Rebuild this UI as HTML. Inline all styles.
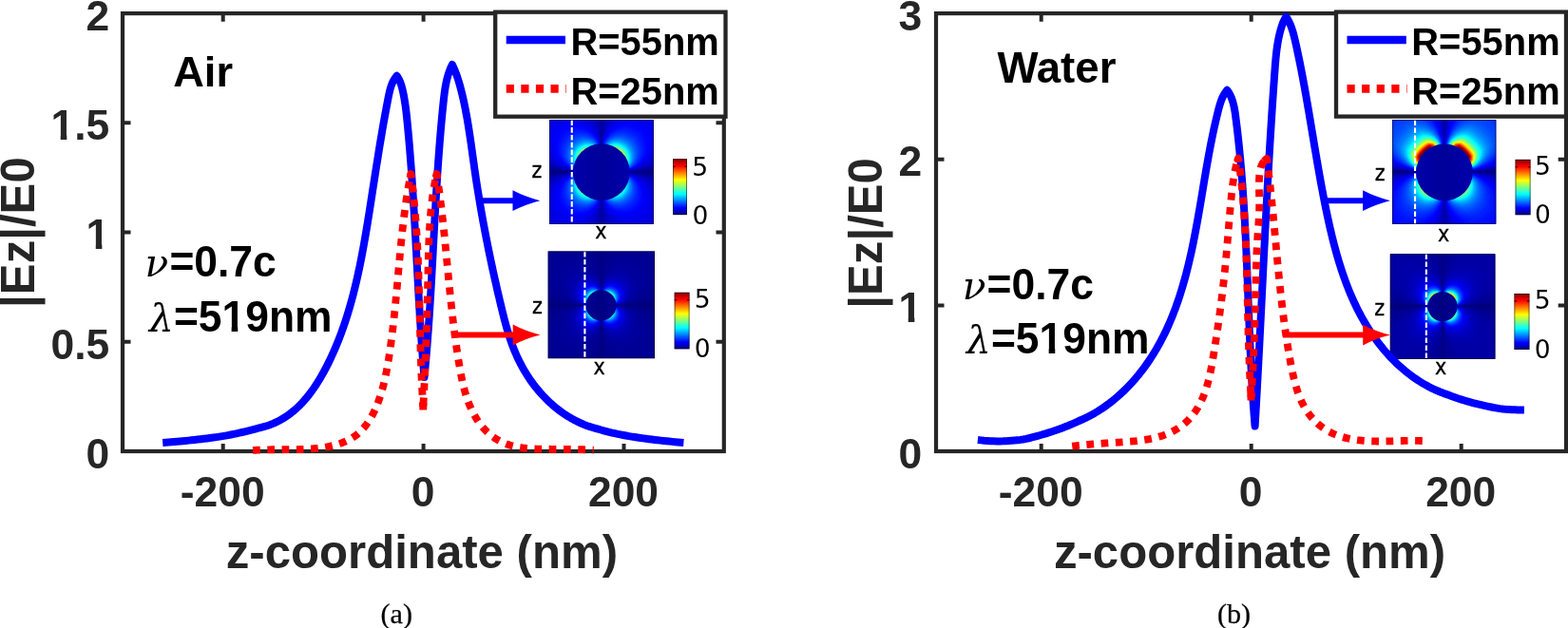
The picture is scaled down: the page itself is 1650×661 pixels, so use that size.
<!DOCTYPE html>
<html lang="en">
<head>
<meta charset="utf-8">
<title>|Ez|/E0 versus z-coordinate: Air and Water</title>
<style>
html,body{margin:0;padding:0;background:#fff}
#fig{position:relative;width:1650px;height:661px;overflow:hidden;background:#fff}
#fig svg{position:absolute;left:0;top:0}
.ins{position:absolute;left:0;top:0;overflow:hidden;transform-origin:0 0;background:#0000c4}
.fld{position:absolute;left:0;top:0;right:0;bottom:0;filter:url(#jet)}
.ly{position:absolute;left:0;top:0;right:0;bottom:0}
</style>
</head>
<body>
<div id="fig">
<svg width="1650" height="661" viewBox="0 0 1650 661">
<defs><filter id="jet" x="0" y="0" width="100%" height="100%" color-interpolation-filters="sRGB"><feComponentTransfer>
<feFuncR type="table" tableValues="0 0 0 0 0.5 1 1 1 0.5"/>
<feFuncG type="table" tableValues="0 0 0.5 1 1 1 0.5 0 0"/>
<feFuncB type="table" tableValues="0.5 1 1 1 0.5 0 0 0 0"/>
</feComponentTransfer></filter></defs>
<rect x="129.0" y="14.1" width="632.8" height="460.9" fill="none" stroke="#262626" stroke-width="4.2"/>
<path d="M234.7 475.0v-8.0M234.7 14.1v8.7M445.6 475.0v-8.0M445.6 14.1v8.7M656.5 475.0v-8.0M656.5 14.1v8.7M129.0 475.0h8.5M761.8 475.0h-8.3M129.0 359.8h8.5M761.8 359.8h-8.3M129.0 244.6h8.5M761.8 244.6h-8.3M129.0 129.3h8.5M761.8 129.3h-8.3M129.0 14.1h8.5M761.8 14.1h-8.3" stroke="#262626" stroke-width="4" fill="none"/>
<g font-family='"Liberation Sans", Arial, Helvetica, sans-serif' font-weight="bold" font-size="44.4" fill="#262626">
<text x="234.2" y="533.3" text-anchor="middle">-200</text>
<text x="445.1" y="533.3" text-anchor="middle">0</text>
<text x="656.0" y="533.3" text-anchor="middle">200</text>
<text transform="translate(115.3 492.7)" text-anchor="end">0</text>
<text transform="translate(115.3 377.5)" text-anchor="end">0.5</text>
<text transform="translate(115.3 262.2)" text-anchor="end" clip-path="url(#k0)">1</text>
<text transform="translate(115.3 147.0)" text-anchor="end" clip-path="url(#k1)">1.5</text>
<text transform="translate(115.3 31.8)" text-anchor="end">2</text>
</g>
<rect x="985.0" y="14.1" width="663.0" height="460.9" fill="none" stroke="#262626" stroke-width="4.2"/>
<path d="M1095.7 475.0v-8.0M1095.7 14.1v8.7M1316.7 475.0v-8.0M1316.7 14.1v8.7M1537.7 475.0v-8.0M1537.7 14.1v8.7M985.0 475.0h8.5M1648.0 475.0h-8.3M985.0 321.4h8.5M1648.0 321.4h-8.3M985.0 167.7h8.5M1648.0 167.7h-8.3M985.0 14.1h8.5M1648.0 14.1h-8.3" stroke="#262626" stroke-width="4" fill="none"/>
<g font-family='"Liberation Sans", Arial, Helvetica, sans-serif' font-weight="bold" font-size="44.4" fill="#262626">
<text x="1095.2" y="533.3" text-anchor="middle">-200</text>
<text x="1316.2" y="533.3" text-anchor="middle">0</text>
<text x="1537.2" y="533.3" text-anchor="middle">200</text>
<text transform="translate(970.3 492.7)" text-anchor="end">0</text>
<text transform="translate(970.3 339.1)" text-anchor="end" clip-path="url(#k2)">1</text>
<text transform="translate(970.3 185.4)" text-anchor="end">2</text>
<text transform="translate(970.3 31.8)" text-anchor="end">3</text>
</g>
<g font-family='"Liberation Sans", Arial, Helvetica, sans-serif' font-weight="bold" fill="#262626" font-size="49.15">
<text x="443.9" y="597.8" text-anchor="middle">z-coordinate (nm)</text>
<text x="1315" y="597.8" text-anchor="middle">z-coordinate (nm)</text>
<text transform="translate(36.3 244.6) rotate(-90)" text-anchor="middle">|Ez|/E0</text>
<text transform="translate(927.6 245.4) rotate(-90)" text-anchor="middle">|Ez|/E0</text>
</g>
<g font-family='"Liberation Sans", Arial, Helvetica, sans-serif' font-weight="bold" fill="#000" font-size="44.4">
<text x="182.2" y="91" font-size="45.2">Air</text>
<text x="1049.4" y="87" font-size="45.6">Water</text>
<text transform="translate(178.4 291.1) scale(1.000 1.030)"><tspan x="-25.8" y="-0.1" font-family='"DejaVu Serif", "Liberation Serif", serif' font-style="italic" font-weight="normal" font-size="40.6">ν</tspan><tspan x="0" y="0">=0.7c</tspan></text>
<text transform="translate(182.9 348.5) scale(1.000 1.030)" clip-path="url(#k3)"><tspan x="-25.9" y="0.1" font-family='"DejaVu Serif", "Liberation Serif", serif' font-style="italic" font-weight="normal" font-size="40.6">λ</tspan><tspan x="0" y="0">=519nm</tspan></text>
<text transform="translate(1038.6 315.3) scale(1.000 1.030)"><tspan x="-25.8" y="-0.1" font-family='"DejaVu Serif", "Liberation Serif", serif' font-style="italic" font-weight="normal" font-size="40.6">ν</tspan><tspan x="0" y="0">=0.7c</tspan></text>
<text transform="translate(1042.9 372.3) scale(1.000 1.030)" clip-path="url(#k4)"><tspan x="-25.9" y="0.1" font-family='"DejaVu Serif", "Liberation Serif", serif' font-style="italic" font-weight="normal" font-size="40.6">λ</tspan><tspan x="0" y="0">=519nm</tspan></text>
</g>
<g font-family='"Liberation Serif", "Times New Roman", serif' fill="#000" font-size="30.1" text-anchor="middle" stroke="#000" stroke-width="0.25"><text x="417.3" y="656">(a)</text><text x="1298.6" y="655.8">(b)</text></g>
<defs><clipPath id="k0"><path d="M-27.7 -44.4H3.0V-5.2H-27.7ZM-14.56 -6.2H-7.95V2.0H-14.56Z"/></clipPath><clipPath id="k1"><path d="M-64.7 -44.4H3.0V-5.2H-64.7ZM-51.59 -6.2H-44.98V2.0H-51.59ZM-37.03 -6.2H-24.69V13.3H-37.03ZM-24.69 -6.2H0.00V13.3H-24.69Z"/></clipPath><clipPath id="k2"><path d="M-27.7 -44.4H3.0V-5.2H-27.7ZM-14.56 -6.2H-7.95V2.0H-14.56Z"/></clipPath><clipPath id="k3"><path d="M-3.0 -44.4H169.6V-5.2H-3.0ZM-33.9 -44.4H0.0V17.8H-33.9ZM0.00 -6.2H25.93V13.3H0.00ZM25.93 -6.2H50.62V13.3H25.93ZM60.74 -6.2H67.35V2.0H60.74ZM75.30 -6.2H99.99V13.3H75.30ZM99.99 -6.2H127.12V13.3H99.99ZM127.12 -6.2H166.59V13.3H127.12Z"/></clipPath><clipPath id="k4"><path d="M-3.0 -44.4H169.6V-5.2H-3.0ZM-33.9 -44.4H0.0V17.8H-33.9ZM0.00 -6.2H25.93V13.3H0.00ZM25.93 -6.2H50.62V13.3H25.93ZM60.74 -6.2H67.35V2.0H60.74ZM75.30 -6.2H99.99V13.3H75.30ZM99.99 -6.2H127.12V13.3H99.99ZM127.12 -6.2H166.59V13.3H127.12Z"/></clipPath></defs>
</svg>
<div class="ins" style="width:110px;height:110px;transform:translate(578.20px,126.00px) scale(0.9964,0.9991)"><div class="fld"><div class="ly" style="background:conic-gradient(from 0deg at 54.9px 54.9px,rgb(8,8,8) 0.0deg,rgb(14,14,14) 7.5deg,rgb(17,17,17) 15.0deg,rgb(19,19,19) 22.5deg,rgb(21,21,21) 30.0deg,rgb(21,21,21) 37.5deg,rgb(22,22,22) 45.0deg,rgb(21,21,21) 52.5deg,rgb(20,20,20) 60.0deg,rgb(19,19,19) 67.5deg,rgb(16,16,16) 75.0deg,rgb(11,11,11) 82.5deg,rgb(0,0,0) 90.0deg,rgb(11,11,11) 97.5deg,rgb(15,15,15) 105.0deg,rgb(17,17,17) 112.5deg,rgb(19,19,19) 120.0deg,rgb(20,20,20) 127.5deg,rgb(20,20,20) 135.0deg,rgb(20,20,20) 142.5deg,rgb(19,19,19) 150.0deg,rgb(18,18,18) 157.5deg,rgb(16,16,16) 165.0deg,rgb(14,14,14) 172.5deg,rgb(8,8,8) 180.0deg,rgb(14,14,14) 187.5deg,rgb(16,16,16) 195.0deg,rgb(18,18,18) 202.5deg,rgb(19,19,19) 210.0deg,rgb(20,20,20) 217.5deg,rgb(20,20,20) 225.0deg,rgb(20,20,20) 232.5deg,rgb(19,19,19) 240.0deg,rgb(17,17,17) 247.5deg,rgb(15,15,15) 255.0deg,rgb(11,11,11) 262.5deg,rgb(0,0,0) 270.0deg,rgb(11,11,11) 277.5deg,rgb(16,16,16) 285.0deg,rgb(19,19,19) 292.5deg,rgb(20,20,20) 300.0deg,rgb(21,21,21) 307.5deg,rgb(22,22,22) 315.0deg,rgb(21,21,21) 322.5deg,rgb(21,21,21) 330.0deg,rgb(19,19,19) 337.5deg,rgb(17,17,17) 345.0deg,rgb(14,14,14) 352.5deg,rgb(8,8,8) 360.0deg)"></div><div class="ly" style="background:conic-gradient(from 0deg at 54.9px 54.9px,rgb(8,8,8) 0.0deg,rgb(50,50,50) 7.5deg,rgb(85,85,85) 15.0deg,rgb(114,114,114) 22.5deg,rgb(135,135,135) 30.0deg,rgb(148,148,148) 37.5deg,rgb(153,153,153) 45.0deg,rgb(148,148,148) 52.5deg,rgb(135,135,135) 60.0deg,rgb(113,113,113) 67.5deg,rgb(83,83,83) 75.0deg,rgb(46,46,46) 82.5deg,rgb(0,0,0) 90.0deg,rgb(35,35,35) 97.5deg,rgb(63,63,63) 105.0deg,rgb(86,86,86) 112.5deg,rgb(103,103,103) 120.0deg,rgb(114,114,114) 127.5deg,rgb(117,117,117) 135.0deg,rgb(114,114,114) 142.5deg,rgb(104,104,104) 150.0deg,rgb(87,87,87) 157.5deg,rgb(66,66,66) 165.0deg,rgb(40,40,40) 172.5deg,rgb(8,8,8) 180.0deg,rgb(43,43,43) 187.5deg,rgb(71,71,71) 195.0deg,rgb(95,95,95) 202.5deg,rgb(113,113,113) 210.0deg,rgb(124,124,124) 217.5deg,rgb(128,128,128) 225.0deg,rgb(124,124,124) 232.5deg,rgb(112,112,112) 240.0deg,rgb(94,94,94) 247.5deg,rgb(69,69,69) 255.0deg,rgb(38,38,38) 262.5deg,rgb(0,0,0) 270.0deg,rgb(42,42,42) 277.5deg,rgb(76,76,76) 285.0deg,rgb(103,103,103) 292.5deg,rgb(124,124,124) 300.0deg,rgb(136,136,136) 307.5deg,rgb(140,140,140) 315.0deg,rgb(136,136,136) 322.5deg,rgb(124,124,124) 330.0deg,rgb(104,104,104) 337.5deg,rgb(78,78,78) 345.0deg,rgb(46,46,46) 352.5deg,rgb(8,8,8) 360.0deg);-webkit-mask-image:radial-gradient(circle at 54.9px 54.9px,rgba(0,0,0,1) 0px,rgba(0,0,0,1) 29.40px,rgba(0,0,0,0.875) 30.58px,rgba(0,0,0,0.766) 31.80px,rgba(0,0,0,0.670) 33.07px,rgba(0,0,0,0.587) 34.39px,rgba(0,0,0,0.513) 35.77px,rgba(0,0,0,0.449) 37.20px,rgba(0,0,0,0.393) 38.69px,rgba(0,0,0,0.344) 40.24px,rgba(0,0,0,0.301) 41.85px,rgba(0,0,0,0.264) 43.52px,rgba(0,0,0,0.231) 45.26px,rgba(0,0,0,0.202) 47.07px,rgba(0,0,0,0.177) 48.95px,rgba(0,0,0,0.155) 50.91px,rgba(0,0,0,0.135) 52.95px,rgba(0,0,0,0.118) 55.07px,rgba(0,0,0,0.104) 57.27px,rgba(0,0,0,0.091) 59.56px,rgba(0,0,0,0.079) 61.94px,rgba(0,0,0,0.069) 64.42px,rgba(0,0,0,0.061) 67.00px,rgba(0,0,0,0.053) 69.68px,rgba(0,0,0,0.047) 72.46px,rgba(0,0,0,0.041) 75.36px,rgba(0,0,0,0.036) 78.38px,rgba(0,0,0,0.031) 81.51px,rgba(0,0,0,0.027) 84.77px,rgba(0,0,0,0.024) 88.16px,rgba(0,0,0,0.021) 91.69px,rgba(0,0,0,0.018) 95.36px,rgba(0,0,0,0.016) 99.17px,rgba(0,0,0,0.014) 103.14px,rgba(0,0,0,0.012) 107.26px,rgba(0,0,0,0.011) 111.55px,rgba(0,0,0,0) 145.02px);mask-image:radial-gradient(circle at 54.9px 54.9px,rgba(0,0,0,1) 0px,rgba(0,0,0,1) 29.40px,rgba(0,0,0,0.875) 30.58px,rgba(0,0,0,0.766) 31.80px,rgba(0,0,0,0.670) 33.07px,rgba(0,0,0,0.587) 34.39px,rgba(0,0,0,0.513) 35.77px,rgba(0,0,0,0.449) 37.20px,rgba(0,0,0,0.393) 38.69px,rgba(0,0,0,0.344) 40.24px,rgba(0,0,0,0.301) 41.85px,rgba(0,0,0,0.264) 43.52px,rgba(0,0,0,0.231) 45.26px,rgba(0,0,0,0.202) 47.07px,rgba(0,0,0,0.177) 48.95px,rgba(0,0,0,0.155) 50.91px,rgba(0,0,0,0.135) 52.95px,rgba(0,0,0,0.118) 55.07px,rgba(0,0,0,0.104) 57.27px,rgba(0,0,0,0.091) 59.56px,rgba(0,0,0,0.079) 61.94px,rgba(0,0,0,0.069) 64.42px,rgba(0,0,0,0.061) 67.00px,rgba(0,0,0,0.053) 69.68px,rgba(0,0,0,0.047) 72.46px,rgba(0,0,0,0.041) 75.36px,rgba(0,0,0,0.036) 78.38px,rgba(0,0,0,0.031) 81.51px,rgba(0,0,0,0.027) 84.77px,rgba(0,0,0,0.024) 88.16px,rgba(0,0,0,0.021) 91.69px,rgba(0,0,0,0.018) 95.36px,rgba(0,0,0,0.016) 99.17px,rgba(0,0,0,0.014) 103.14px,rgba(0,0,0,0.012) 107.26px,rgba(0,0,0,0.011) 111.55px,rgba(0,0,0,0) 145.02px)"></div></div></div>
<div class="ins" style="width:112px;height:113px;transform:translate(576.70px,264.50px) scale(1.0027,0.9973)"><div class="fld"><div class="ly" style="background:conic-gradient(from 0deg at 55.7px 57.0px,rgb(2,2,2) 0.0deg,rgb(4,4,4) 7.5deg,rgb(4,4,4) 15.0deg,rgb(5,5,5) 22.5deg,rgb(5,5,5) 30.0deg,rgb(5,5,5) 37.5deg,rgb(5,5,5) 45.0deg,rgb(5,5,5) 52.5deg,rgb(5,5,5) 60.0deg,rgb(4,4,4) 67.5deg,rgb(4,4,4) 75.0deg,rgb(3,3,3) 82.5deg,rgb(0,0,0) 90.0deg,rgb(3,3,3) 97.5deg,rgb(4,4,4) 105.0deg,rgb(4,4,4) 112.5deg,rgb(5,5,5) 120.0deg,rgb(5,5,5) 127.5deg,rgb(5,5,5) 135.0deg,rgb(5,5,5) 142.5deg,rgb(5,5,5) 150.0deg,rgb(5,5,5) 157.5deg,rgb(4,4,4) 165.0deg,rgb(4,4,4) 172.5deg,rgb(2,2,2) 180.0deg,rgb(4,4,4) 187.5deg,rgb(4,4,4) 195.0deg,rgb(5,5,5) 202.5deg,rgb(5,5,5) 210.0deg,rgb(5,5,5) 217.5deg,rgb(5,5,5) 225.0deg,rgb(5,5,5) 232.5deg,rgb(5,5,5) 240.0deg,rgb(4,4,4) 247.5deg,rgb(4,4,4) 255.0deg,rgb(3,3,3) 262.5deg,rgb(0,0,0) 270.0deg,rgb(3,3,3) 277.5deg,rgb(4,4,4) 285.0deg,rgb(4,4,4) 292.5deg,rgb(5,5,5) 300.0deg,rgb(5,5,5) 307.5deg,rgb(5,5,5) 315.0deg,rgb(5,5,5) 322.5deg,rgb(5,5,5) 330.0deg,rgb(5,5,5) 337.5deg,rgb(4,4,4) 345.0deg,rgb(4,4,4) 352.5deg,rgb(2,2,2) 360.0deg)"></div><div class="ly" style="background:conic-gradient(from 0deg at 55.7px 57.0px,rgb(2,2,2) 0.0deg,rgb(39,39,39) 7.5deg,rgb(69,69,69) 15.0deg,rgb(94,94,94) 22.5deg,rgb(112,112,112) 30.0deg,rgb(124,124,124) 37.5deg,rgb(128,128,128) 45.0deg,rgb(124,124,124) 52.5deg,rgb(112,112,112) 60.0deg,rgb(93,93,93) 67.5deg,rgb(68,68,68) 75.0deg,rgb(38,38,38) 82.5deg,rgb(0,0,0) 90.0deg,rgb(34,34,34) 97.5deg,rgb(62,62,62) 105.0deg,rgb(84,84,84) 112.5deg,rgb(101,101,101) 120.0deg,rgb(111,111,111) 127.5deg,rgb(115,115,115) 135.0deg,rgb(111,111,111) 142.5deg,rgb(101,101,101) 150.0deg,rgb(84,84,84) 157.5deg,rgb(62,62,62) 165.0deg,rgb(35,35,35) 172.5deg,rgb(2,2,2) 180.0deg,rgb(36,36,36) 187.5deg,rgb(64,64,64) 195.0deg,rgb(86,86,86) 202.5deg,rgb(103,103,103) 210.0deg,rgb(114,114,114) 217.5deg,rgb(117,117,117) 225.0deg,rgb(114,114,114) 232.5deg,rgb(103,103,103) 240.0deg,rgb(86,86,86) 247.5deg,rgb(63,63,63) 255.0deg,rgb(35,35,35) 262.5deg,rgb(0,0,0) 270.0deg,rgb(38,38,38) 277.5deg,rgb(68,68,68) 285.0deg,rgb(93,93,93) 292.5deg,rgb(112,112,112) 300.0deg,rgb(124,124,124) 307.5deg,rgb(128,128,128) 315.0deg,rgb(124,124,124) 322.5deg,rgb(112,112,112) 330.0deg,rgb(94,94,94) 337.5deg,rgb(69,69,69) 345.0deg,rgb(39,39,39) 352.5deg,rgb(2,2,2) 360.0deg);-webkit-mask-image:radial-gradient(circle at 55.7px 57.0px,rgba(0,0,0,1) 0px,rgba(0,0,0,1) 15.60px,rgba(0,0,0,0.882) 16.22px,rgba(0,0,0,0.778) 16.87px,rgba(0,0,0,0.686) 17.55px,rgba(0,0,0,0.605) 18.25px,rgba(0,0,0,0.534) 18.98px,rgba(0,0,0,0.471) 19.74px,rgba(0,0,0,0.415) 20.53px,rgba(0,0,0,0.366) 21.35px,rgba(0,0,0,0.323) 22.20px,rgba(0,0,0,0.285) 23.09px,rgba(0,0,0,0.251) 24.02px,rgba(0,0,0,0.222) 24.98px,rgba(0,0,0,0.196) 25.98px,rgba(0,0,0,0.173) 27.01px,rgba(0,0,0,0.152) 28.09px,rgba(0,0,0,0.134) 29.22px,rgba(0,0,0,0.118) 30.39px,rgba(0,0,0,0.104) 31.60px,rgba(0,0,0,0.092) 32.87px,rgba(0,0,0,0.081) 34.18px,rgba(0,0,0,0.072) 35.55px,rgba(0,0,0,0.063) 36.97px,rgba(0,0,0,0.056) 38.45px,rgba(0,0,0,0.049) 39.99px,rgba(0,0,0,0.043) 41.59px,rgba(0,0,0,0.038) 43.25px,rgba(0,0,0,0.034) 44.98px,rgba(0,0,0,0.030) 46.78px,rgba(0,0,0,0.026) 48.65px,rgba(0,0,0,0.023) 50.60px,rgba(0,0,0,0.020) 52.62px,rgba(0,0,0,0.018) 54.73px,rgba(0,0,0,0.016) 56.91px,rgba(0,0,0,0.014) 59.19px,rgba(0,0,0,0.012) 61.56px,rgba(0,0,0,0.011) 64.02px,rgba(0,0,0,0.010) 66.58px,rgba(0,0,0,0.008) 69.25px,rgba(0,0,0,0.007) 72.02px,rgba(0,0,0,0.007) 74.90px,rgba(0,0,0,0.006) 77.89px,rgba(0,0,0,0.005) 81.01px,rgba(0,0,0,0.005) 84.25px,rgba(0,0,0,0.004) 87.62px,rgba(0,0,0,0.004) 91.12px,rgba(0,0,0,0.003) 94.77px,rgba(0,0,0,0.003) 98.56px,rgba(0,0,0,0.002) 102.50px,rgba(0,0,0,0.002) 106.60px,rgba(0,0,0,0.002) 110.86px,rgba(0,0,0,0.002) 115.30px,rgba(0,0,0,0) 149.89px);mask-image:radial-gradient(circle at 55.7px 57.0px,rgba(0,0,0,1) 0px,rgba(0,0,0,1) 15.60px,rgba(0,0,0,0.882) 16.22px,rgba(0,0,0,0.778) 16.87px,rgba(0,0,0,0.686) 17.55px,rgba(0,0,0,0.605) 18.25px,rgba(0,0,0,0.534) 18.98px,rgba(0,0,0,0.471) 19.74px,rgba(0,0,0,0.415) 20.53px,rgba(0,0,0,0.366) 21.35px,rgba(0,0,0,0.323) 22.20px,rgba(0,0,0,0.285) 23.09px,rgba(0,0,0,0.251) 24.02px,rgba(0,0,0,0.222) 24.98px,rgba(0,0,0,0.196) 25.98px,rgba(0,0,0,0.173) 27.01px,rgba(0,0,0,0.152) 28.09px,rgba(0,0,0,0.134) 29.22px,rgba(0,0,0,0.118) 30.39px,rgba(0,0,0,0.104) 31.60px,rgba(0,0,0,0.092) 32.87px,rgba(0,0,0,0.081) 34.18px,rgba(0,0,0,0.072) 35.55px,rgba(0,0,0,0.063) 36.97px,rgba(0,0,0,0.056) 38.45px,rgba(0,0,0,0.049) 39.99px,rgba(0,0,0,0.043) 41.59px,rgba(0,0,0,0.038) 43.25px,rgba(0,0,0,0.034) 44.98px,rgba(0,0,0,0.030) 46.78px,rgba(0,0,0,0.026) 48.65px,rgba(0,0,0,0.023) 50.60px,rgba(0,0,0,0.020) 52.62px,rgba(0,0,0,0.018) 54.73px,rgba(0,0,0,0.016) 56.91px,rgba(0,0,0,0.014) 59.19px,rgba(0,0,0,0.012) 61.56px,rgba(0,0,0,0.011) 64.02px,rgba(0,0,0,0.010) 66.58px,rgba(0,0,0,0.008) 69.25px,rgba(0,0,0,0.007) 72.02px,rgba(0,0,0,0.007) 74.90px,rgba(0,0,0,0.006) 77.89px,rgba(0,0,0,0.005) 81.01px,rgba(0,0,0,0.005) 84.25px,rgba(0,0,0,0.004) 87.62px,rgba(0,0,0,0.004) 91.12px,rgba(0,0,0,0.003) 94.77px,rgba(0,0,0,0.003) 98.56px,rgba(0,0,0,0.002) 102.50px,rgba(0,0,0,0.002) 106.60px,rgba(0,0,0,0.002) 110.86px,rgba(0,0,0,0.002) 115.30px,rgba(0,0,0,0) 149.89px)"></div></div></div>
<div class="ins" style="width:109px;height:110px;transform:translate(1465.00px,126.10px) scale(1.0028,0.9964)"><div class="fld"><div class="ly" style="background:conic-gradient(from 0deg at 54.6px 54.7px,rgb(9,9,9) 0.0deg,rgb(23,23,23) 7.5deg,rgb(29,29,29) 15.0deg,rgb(33,33,33) 22.5deg,rgb(36,36,36) 30.0deg,rgb(38,38,38) 37.5deg,rgb(38,38,38) 45.0deg,rgb(38,38,38) 52.5deg,rgb(36,36,36) 60.0deg,rgb(33,33,33) 67.5deg,rgb(27,27,27) 75.0deg,rgb(20,20,20) 82.5deg,rgb(0,0,0) 90.0deg,rgb(15,15,15) 97.5deg,rgb(20,20,20) 105.0deg,rgb(24,24,24) 112.5deg,rgb(26,26,26) 120.0deg,rgb(28,28,28) 127.5deg,rgb(28,28,28) 135.0deg,rgb(28,28,28) 142.5deg,rgb(27,27,27) 150.0deg,rgb(25,25,25) 157.5deg,rgb(22,22,22) 165.0deg,rgb(18,18,18) 172.5deg,rgb(9,9,9) 180.0deg,rgb(18,18,18) 187.5deg,rgb(22,22,22) 195.0deg,rgb(25,25,25) 202.5deg,rgb(27,27,27) 210.0deg,rgb(28,28,28) 217.5deg,rgb(28,28,28) 225.0deg,rgb(28,28,28) 232.5deg,rgb(26,26,26) 240.0deg,rgb(24,24,24) 247.5deg,rgb(20,20,20) 255.0deg,rgb(15,15,15) 262.5deg,rgb(0,0,0) 270.0deg,rgb(20,20,20) 277.5deg,rgb(27,27,27) 285.0deg,rgb(33,33,33) 292.5deg,rgb(36,36,36) 300.0deg,rgb(38,38,38) 307.5deg,rgb(38,38,38) 315.0deg,rgb(38,38,38) 322.5deg,rgb(36,36,36) 330.0deg,rgb(33,33,33) 337.5deg,rgb(29,29,29) 345.0deg,rgb(23,23,23) 352.5deg,rgb(9,9,9) 360.0deg)"></div><div class="ly" style="background:conic-gradient(from 0deg at 54.6px 54.7px,rgb(10,10,10) 0.0deg,rgb(50,50,50) 7.5deg,rgb(83,83,83) 15.0deg,rgb(110,110,110) 22.5deg,rgb(131,131,131) 30.0deg,rgb(144,144,144) 37.5deg,rgb(148,148,148) 45.0deg,rgb(143,143,143) 52.5deg,rgb(130,130,130) 60.0deg,rgb(109,109,109) 67.5deg,rgb(80,80,80) 75.0deg,rgb(44,44,44) 82.5deg,rgb(0,0,0) 90.0deg,rgb(44,44,44) 97.5deg,rgb(80,80,80) 105.0deg,rgb(109,109,109) 112.5deg,rgb(130,130,130) 120.0deg,rgb(143,143,143) 127.5deg,rgb(148,148,148) 135.0deg,rgb(144,144,144) 142.5deg,rgb(131,131,131) 150.0deg,rgb(110,110,110) 157.5deg,rgb(83,83,83) 165.0deg,rgb(50,50,50) 172.5deg,rgb(10,10,10) 180.0deg,rgb(50,50,50) 187.5deg,rgb(83,83,83) 195.0deg,rgb(110,110,110) 202.5deg,rgb(131,131,131) 210.0deg,rgb(144,144,144) 217.5deg,rgb(148,148,148) 225.0deg,rgb(143,143,143) 232.5deg,rgb(130,130,130) 240.0deg,rgb(109,109,109) 247.5deg,rgb(80,80,80) 255.0deg,rgb(44,44,44) 262.5deg,rgb(0,0,0) 270.0deg,rgb(44,44,44) 277.5deg,rgb(80,80,80) 285.0deg,rgb(109,109,109) 292.5deg,rgb(130,130,130) 300.0deg,rgb(143,143,143) 307.5deg,rgb(148,148,148) 315.0deg,rgb(144,144,144) 322.5deg,rgb(131,131,131) 330.0deg,rgb(110,110,110) 337.5deg,rgb(83,83,83) 345.0deg,rgb(50,50,50) 352.5deg,rgb(10,10,10) 360.0deg);-webkit-mask-image:radial-gradient(circle at 54.6px 54.7px,rgba(0,0,0,1) 0px,rgba(0,0,0,1) 29.40px,rgba(0,0,0,0.882) 30.58px,rgba(0,0,0,0.778) 31.80px,rgba(0,0,0,0.686) 33.07px,rgba(0,0,0,0.605) 34.39px,rgba(0,0,0,0.534) 35.77px,rgba(0,0,0,0.471) 37.20px,rgba(0,0,0,0.415) 38.69px,rgba(0,0,0,0.366) 40.24px,rgba(0,0,0,0.323) 41.85px,rgba(0,0,0,0.285) 43.52px,rgba(0,0,0,0.251) 45.26px,rgba(0,0,0,0.222) 47.07px,rgba(0,0,0,0.196) 48.95px,rgba(0,0,0,0.173) 50.91px,rgba(0,0,0,0.152) 52.95px,rgba(0,0,0,0.134) 55.07px,rgba(0,0,0,0.118) 57.27px,rgba(0,0,0,0.104) 59.56px,rgba(0,0,0,0.092) 61.94px,rgba(0,0,0,0.081) 64.42px,rgba(0,0,0,0.072) 67.00px,rgba(0,0,0,0.063) 69.68px,rgba(0,0,0,0.056) 72.46px,rgba(0,0,0,0.049) 75.36px,rgba(0,0,0,0.043) 78.38px,rgba(0,0,0,0.038) 81.51px,rgba(0,0,0,0.034) 84.77px,rgba(0,0,0,0.030) 88.16px,rgba(0,0,0,0.026) 91.69px,rgba(0,0,0,0.023) 95.36px,rgba(0,0,0,0.020) 99.17px,rgba(0,0,0,0.018) 103.14px,rgba(0,0,0,0.016) 107.26px,rgba(0,0,0,0.014) 111.55px,rgba(0,0,0,0) 145.02px);mask-image:radial-gradient(circle at 54.6px 54.7px,rgba(0,0,0,1) 0px,rgba(0,0,0,1) 29.40px,rgba(0,0,0,0.882) 30.58px,rgba(0,0,0,0.778) 31.80px,rgba(0,0,0,0.686) 33.07px,rgba(0,0,0,0.605) 34.39px,rgba(0,0,0,0.534) 35.77px,rgba(0,0,0,0.471) 37.20px,rgba(0,0,0,0.415) 38.69px,rgba(0,0,0,0.366) 40.24px,rgba(0,0,0,0.323) 41.85px,rgba(0,0,0,0.285) 43.52px,rgba(0,0,0,0.251) 45.26px,rgba(0,0,0,0.222) 47.07px,rgba(0,0,0,0.196) 48.95px,rgba(0,0,0,0.173) 50.91px,rgba(0,0,0,0.152) 52.95px,rgba(0,0,0,0.134) 55.07px,rgba(0,0,0,0.118) 57.27px,rgba(0,0,0,0.104) 59.56px,rgba(0,0,0,0.092) 61.94px,rgba(0,0,0,0.081) 64.42px,rgba(0,0,0,0.072) 67.00px,rgba(0,0,0,0.063) 69.68px,rgba(0,0,0,0.056) 72.46px,rgba(0,0,0,0.049) 75.36px,rgba(0,0,0,0.043) 78.38px,rgba(0,0,0,0.038) 81.51px,rgba(0,0,0,0.034) 84.77px,rgba(0,0,0,0.030) 88.16px,rgba(0,0,0,0.026) 91.69px,rgba(0,0,0,0.023) 95.36px,rgba(0,0,0,0.020) 99.17px,rgba(0,0,0,0.018) 103.14px,rgba(0,0,0,0.016) 107.26px,rgba(0,0,0,0.014) 111.55px,rgba(0,0,0,0) 145.02px);clip-path:inset(54.7px 0 0 0)"></div><div class="ly" style="background:conic-gradient(from 0deg at 54.6px 54.7px,rgb(10,10,10) 0.0deg,rgb(57,57,57) 7.5deg,rgb(131,131,131) 15.0deg,rgb(202,202,202) 22.5deg,rgb(255,255,255) 30.0deg,rgb(255,255,255) 37.5deg,rgb(255,255,255) 45.0deg,rgb(255,255,255) 52.5deg,rgb(255,255,255) 60.0deg,rgb(202,202,202) 67.5deg,rgb(131,131,131) 75.0deg,rgb(57,57,57) 82.5deg,rgb(0,0,0) 90.0deg,rgb(57,57,57) 97.5deg,rgb(131,131,131) 105.0deg,rgb(202,202,202) 112.5deg,rgb(255,255,255) 120.0deg,rgb(255,255,255) 127.5deg,rgb(255,255,255) 135.0deg,rgb(255,255,255) 142.5deg,rgb(255,255,255) 150.0deg,rgb(202,202,202) 157.5deg,rgb(131,131,131) 165.0deg,rgb(57,57,57) 172.5deg,rgb(10,10,10) 180.0deg,rgb(57,57,57) 187.5deg,rgb(131,131,131) 195.0deg,rgb(202,202,202) 202.5deg,rgb(255,255,255) 210.0deg,rgb(255,255,255) 217.5deg,rgb(255,255,255) 225.0deg,rgb(255,255,255) 232.5deg,rgb(255,255,255) 240.0deg,rgb(202,202,202) 247.5deg,rgb(131,131,131) 255.0deg,rgb(57,57,57) 262.5deg,rgb(0,0,0) 270.0deg,rgb(57,57,57) 277.5deg,rgb(131,131,131) 285.0deg,rgb(202,202,202) 292.5deg,rgb(255,255,255) 300.0deg,rgb(255,255,255) 307.5deg,rgb(255,255,255) 315.0deg,rgb(255,255,255) 322.5deg,rgb(255,255,255) 330.0deg,rgb(202,202,202) 337.5deg,rgb(131,131,131) 345.0deg,rgb(57,57,57) 352.5deg,rgb(10,10,10) 360.0deg);-webkit-mask-image:radial-gradient(circle at 54.6px 54.7px,rgba(0,0,0,1) 0px,rgba(0,0,0,1) 29.40px,rgba(0,0,0,1.000) 30.58px,rgba(0,0,0,0.906) 31.80px,rgba(0,0,0,0.780) 33.07px,rgba(0,0,0,0.672) 34.39px,rgba(0,0,0,0.579) 35.77px,rgba(0,0,0,0.499) 37.20px,rgba(0,0,0,0.430) 38.69px,rgba(0,0,0,0.370) 40.24px,rgba(0,0,0,0.319) 41.85px,rgba(0,0,0,0.275) 43.52px,rgba(0,0,0,0.237) 45.26px,rgba(0,0,0,0.204) 47.07px,rgba(0,0,0,0.176) 48.95px,rgba(0,0,0,0.151) 50.91px,rgba(0,0,0,0.130) 52.95px,rgba(0,0,0,0.112) 55.07px,rgba(0,0,0,0.097) 57.27px,rgba(0,0,0,0.083) 59.56px,rgba(0,0,0,0.072) 61.94px,rgba(0,0,0,0.062) 64.42px,rgba(0,0,0,0.053) 67.00px,rgba(0,0,0,0.046) 69.68px,rgba(0,0,0,0.040) 72.46px,rgba(0,0,0,0.034) 75.36px,rgba(0,0,0,0.029) 78.38px,rgba(0,0,0,0.025) 81.51px,rgba(0,0,0,0.022) 84.77px,rgba(0,0,0,0.019) 88.16px,rgba(0,0,0,0.016) 91.69px,rgba(0,0,0,0.014) 95.36px,rgba(0,0,0,0.012) 99.17px,rgba(0,0,0,0.010) 103.14px,rgba(0,0,0,0.009) 107.26px,rgba(0,0,0,0.008) 111.55px,rgba(0,0,0,0) 145.02px);mask-image:radial-gradient(circle at 54.6px 54.7px,rgba(0,0,0,1) 0px,rgba(0,0,0,1) 29.40px,rgba(0,0,0,1.000) 30.58px,rgba(0,0,0,0.906) 31.80px,rgba(0,0,0,0.780) 33.07px,rgba(0,0,0,0.672) 34.39px,rgba(0,0,0,0.579) 35.77px,rgba(0,0,0,0.499) 37.20px,rgba(0,0,0,0.430) 38.69px,rgba(0,0,0,0.370) 40.24px,rgba(0,0,0,0.319) 41.85px,rgba(0,0,0,0.275) 43.52px,rgba(0,0,0,0.237) 45.26px,rgba(0,0,0,0.204) 47.07px,rgba(0,0,0,0.176) 48.95px,rgba(0,0,0,0.151) 50.91px,rgba(0,0,0,0.130) 52.95px,rgba(0,0,0,0.112) 55.07px,rgba(0,0,0,0.097) 57.27px,rgba(0,0,0,0.083) 59.56px,rgba(0,0,0,0.072) 61.94px,rgba(0,0,0,0.062) 64.42px,rgba(0,0,0,0.053) 67.00px,rgba(0,0,0,0.046) 69.68px,rgba(0,0,0,0.040) 72.46px,rgba(0,0,0,0.034) 75.36px,rgba(0,0,0,0.029) 78.38px,rgba(0,0,0,0.025) 81.51px,rgba(0,0,0,0.022) 84.77px,rgba(0,0,0,0.019) 88.16px,rgba(0,0,0,0.016) 91.69px,rgba(0,0,0,0.014) 95.36px,rgba(0,0,0,0.012) 99.17px,rgba(0,0,0,0.010) 103.14px,rgba(0,0,0,0.009) 107.26px,rgba(0,0,0,0.008) 111.55px,rgba(0,0,0,0) 145.02px);clip-path:inset(0 0 55.3px 0)"></div></div></div>
<div class="ins" style="width:111px;height:111px;transform:translate(1462.80px,267.30px) scale(0.9964,0.9964)"><div class="fld"><div class="ly" style="background:conic-gradient(from 0deg at 55.4px 55.3px,rgb(3,3,3) 0.0deg,rgb(6,6,6) 7.5deg,rgb(7,7,7) 15.0deg,rgb(8,8,8) 22.5deg,rgb(8,8,8) 30.0deg,rgb(9,9,9) 37.5deg,rgb(9,9,9) 45.0deg,rgb(9,9,9) 52.5deg,rgb(8,8,8) 60.0deg,rgb(8,8,8) 67.5deg,rgb(6,6,6) 75.0deg,rgb(5,5,5) 82.5deg,rgb(0,0,0) 90.0deg,rgb(5,5,5) 97.5deg,rgb(6,6,6) 105.0deg,rgb(8,8,8) 112.5deg,rgb(8,8,8) 120.0deg,rgb(9,9,9) 127.5deg,rgb(9,9,9) 135.0deg,rgb(9,9,9) 142.5deg,rgb(8,8,8) 150.0deg,rgb(8,8,8) 157.5deg,rgb(7,7,7) 165.0deg,rgb(6,6,6) 172.5deg,rgb(3,3,3) 180.0deg,rgb(6,6,6) 187.5deg,rgb(7,7,7) 195.0deg,rgb(8,8,8) 202.5deg,rgb(8,8,8) 210.0deg,rgb(9,9,9) 217.5deg,rgb(9,9,9) 225.0deg,rgb(9,9,9) 232.5deg,rgb(8,8,8) 240.0deg,rgb(8,8,8) 247.5deg,rgb(6,6,6) 255.0deg,rgb(5,5,5) 262.5deg,rgb(0,0,0) 270.0deg,rgb(5,5,5) 277.5deg,rgb(6,6,6) 285.0deg,rgb(8,8,8) 292.5deg,rgb(8,8,8) 300.0deg,rgb(9,9,9) 307.5deg,rgb(9,9,9) 315.0deg,rgb(9,9,9) 322.5deg,rgb(8,8,8) 330.0deg,rgb(8,8,8) 337.5deg,rgb(7,7,7) 345.0deg,rgb(6,6,6) 352.5deg,rgb(3,3,3) 360.0deg)"></div><div class="ly" style="background:conic-gradient(from 0deg at 55.4px 55.3px,rgb(3,3,3) 0.0deg,rgb(58,58,58) 7.5deg,rgb(103,103,103) 15.0deg,rgb(141,141,141) 22.5deg,rgb(168,168,168) 30.0deg,rgb(185,185,185) 37.5deg,rgb(191,191,191) 45.0deg,rgb(185,185,185) 52.5deg,rgb(168,168,168) 60.0deg,rgb(140,140,140) 67.5deg,rgb(103,103,103) 75.0deg,rgb(57,57,57) 82.5deg,rgb(0,0,0) 90.0deg,rgb(47,47,47) 97.5deg,rgb(85,85,85) 105.0deg,rgb(116,116,116) 112.5deg,rgb(139,139,139) 120.0deg,rgb(153,153,153) 127.5deg,rgb(158,158,158) 135.0deg,rgb(153,153,153) 142.5deg,rgb(139,139,139) 150.0deg,rgb(116,116,116) 157.5deg,rgb(86,86,86) 165.0deg,rgb(48,48,48) 172.5deg,rgb(3,3,3) 180.0deg,rgb(48,48,48) 187.5deg,rgb(86,86,86) 195.0deg,rgb(116,116,116) 202.5deg,rgb(139,139,139) 210.0deg,rgb(153,153,153) 217.5deg,rgb(158,158,158) 225.0deg,rgb(153,153,153) 232.5deg,rgb(139,139,139) 240.0deg,rgb(116,116,116) 247.5deg,rgb(85,85,85) 255.0deg,rgb(47,47,47) 262.5deg,rgb(0,0,0) 270.0deg,rgb(53,53,53) 277.5deg,rgb(96,96,96) 285.0deg,rgb(131,131,131) 292.5deg,rgb(157,157,157) 300.0deg,rgb(173,173,173) 307.5deg,rgb(178,178,178) 315.0deg,rgb(173,173,173) 322.5deg,rgb(157,157,157) 330.0deg,rgb(131,131,131) 337.5deg,rgb(97,97,97) 345.0deg,rgb(55,55,55) 352.5deg,rgb(3,3,3) 360.0deg);-webkit-mask-image:radial-gradient(circle at 55.4px 55.3px,rgba(0,0,0,1) 0px,rgba(0,0,0,1) 15.10px,rgba(0,0,0,0.875) 15.70px,rgba(0,0,0,0.766) 16.33px,rgba(0,0,0,0.670) 16.99px,rgba(0,0,0,0.587) 17.66px,rgba(0,0,0,0.513) 18.37px,rgba(0,0,0,0.449) 19.11px,rgba(0,0,0,0.393) 19.87px,rgba(0,0,0,0.344) 20.67px,rgba(0,0,0,0.301) 21.49px,rgba(0,0,0,0.264) 22.35px,rgba(0,0,0,0.231) 23.25px,rgba(0,0,0,0.202) 24.18px,rgba(0,0,0,0.177) 25.14px,rgba(0,0,0,0.155) 26.15px,rgba(0,0,0,0.135) 27.19px,rgba(0,0,0,0.118) 28.28px,rgba(0,0,0,0.104) 29.41px,rgba(0,0,0,0.091) 30.59px,rgba(0,0,0,0.079) 31.81px,rgba(0,0,0,0.069) 33.09px,rgba(0,0,0,0.061) 34.41px,rgba(0,0,0,0.053) 35.79px,rgba(0,0,0,0.047) 37.22px,rgba(0,0,0,0.041) 38.71px,rgba(0,0,0,0.036) 40.25px,rgba(0,0,0,0.031) 41.86px,rgba(0,0,0,0.027) 43.54px,rgba(0,0,0,0.024) 45.28px,rgba(0,0,0,0.021) 47.09px,rgba(0,0,0,0.018) 48.98px,rgba(0,0,0,0.016) 50.93px,rgba(0,0,0,0.014) 52.97px,rgba(0,0,0,0.012) 55.09px,rgba(0,0,0,0.011) 57.29px,rgba(0,0,0,0.009) 59.59px,rgba(0,0,0,0.008) 61.97px,rgba(0,0,0,0.007) 64.45px,rgba(0,0,0,0.006) 67.03px,rgba(0,0,0,0.006) 69.71px,rgba(0,0,0,0.005) 72.50px,rgba(0,0,0,0.004) 75.40px,rgba(0,0,0,0.004) 78.41px,rgba(0,0,0,0.003) 81.55px,rgba(0,0,0,0.003) 84.81px,rgba(0,0,0,0.002) 88.20px,rgba(0,0,0,0.002) 91.73px,rgba(0,0,0,0.002) 95.40px,rgba(0,0,0,0.002) 99.21px,rgba(0,0,0,0.001) 103.18px,rgba(0,0,0,0.001) 107.31px,rgba(0,0,0,0.001) 111.60px,rgba(0,0,0,0) 145.08px);mask-image:radial-gradient(circle at 55.4px 55.3px,rgba(0,0,0,1) 0px,rgba(0,0,0,1) 15.10px,rgba(0,0,0,0.875) 15.70px,rgba(0,0,0,0.766) 16.33px,rgba(0,0,0,0.670) 16.99px,rgba(0,0,0,0.587) 17.66px,rgba(0,0,0,0.513) 18.37px,rgba(0,0,0,0.449) 19.11px,rgba(0,0,0,0.393) 19.87px,rgba(0,0,0,0.344) 20.67px,rgba(0,0,0,0.301) 21.49px,rgba(0,0,0,0.264) 22.35px,rgba(0,0,0,0.231) 23.25px,rgba(0,0,0,0.202) 24.18px,rgba(0,0,0,0.177) 25.14px,rgba(0,0,0,0.155) 26.15px,rgba(0,0,0,0.135) 27.19px,rgba(0,0,0,0.118) 28.28px,rgba(0,0,0,0.104) 29.41px,rgba(0,0,0,0.091) 30.59px,rgba(0,0,0,0.079) 31.81px,rgba(0,0,0,0.069) 33.09px,rgba(0,0,0,0.061) 34.41px,rgba(0,0,0,0.053) 35.79px,rgba(0,0,0,0.047) 37.22px,rgba(0,0,0,0.041) 38.71px,rgba(0,0,0,0.036) 40.25px,rgba(0,0,0,0.031) 41.86px,rgba(0,0,0,0.027) 43.54px,rgba(0,0,0,0.024) 45.28px,rgba(0,0,0,0.021) 47.09px,rgba(0,0,0,0.018) 48.98px,rgba(0,0,0,0.016) 50.93px,rgba(0,0,0,0.014) 52.97px,rgba(0,0,0,0.012) 55.09px,rgba(0,0,0,0.011) 57.29px,rgba(0,0,0,0.009) 59.59px,rgba(0,0,0,0.008) 61.97px,rgba(0,0,0,0.007) 64.45px,rgba(0,0,0,0.006) 67.03px,rgba(0,0,0,0.006) 69.71px,rgba(0,0,0,0.005) 72.50px,rgba(0,0,0,0.004) 75.40px,rgba(0,0,0,0.004) 78.41px,rgba(0,0,0,0.003) 81.55px,rgba(0,0,0,0.003) 84.81px,rgba(0,0,0,0.002) 88.20px,rgba(0,0,0,0.002) 91.73px,rgba(0,0,0,0.002) 95.40px,rgba(0,0,0,0.002) 99.21px,rgba(0,0,0,0.001) 103.18px,rgba(0,0,0,0.001) 107.31px,rgba(0,0,0,0.001) 111.60px,rgba(0,0,0,0) 145.08px)"></div></div></div>
<svg width="1650" height="661" viewBox="0 0 1650 661">
<defs><linearGradient id="jetbar" x1="0" y1="1" x2="0" y2="0"><stop offset="0" stop-color="#000080"/><stop offset="0.125" stop-color="#0000ff"/><stop offset="0.375" stop-color="#00ffff"/><stop offset="0.625" stop-color="#ffff00"/><stop offset="0.875" stop-color="#ff0000"/><stop offset="1" stop-color="#800000"/></linearGradient></defs>
<linearGradient id="cg0"><stop offset="0" stop-color="rgb(0,0,171)"/><stop offset="0.5" stop-color="rgb(0,0,153)"/><stop offset="1" stop-color="rgb(0,0,171)"/></linearGradient><circle cx="632.90" cy="181.20" r="29.90" fill="url(#cg0)"/><path d="M601.75 126.30V235.60" stroke="#fff" stroke-width="2.1" stroke-dasharray="5.70 2.10" fill="none"/><rect x="578.65" y="126.45" width="108.70" height="109.00" fill="none" stroke="#000" stroke-opacity="0.6" stroke-width="0.9"/><rect x="708.00" y="167.30" width="15.00" height="58.80" fill="url(#jetbar)"/><rect x="708.40" y="167.70" width="14.20" height="58.00" fill="none" stroke="#000" stroke-opacity="0.65" stroke-width="0.8"/><path d="M708.00 175.18h2.6M723.00 175.18h-2.6" stroke="#000" stroke-opacity="0.8" stroke-width="1.1" fill="none"/>
<linearGradient id="cg1"><stop offset="0" stop-color="rgb(0,0,148)"/><stop offset="0.5" stop-color="rgb(0,0,130)"/><stop offset="1" stop-color="rgb(0,0,148)"/></linearGradient><circle cx="632.50" cy="321.40" r="16.10" fill="url(#cg1)"/><path d="M615.40 264.80V376.90" stroke="#fff" stroke-width="2.1" stroke-dasharray="5.60 2.50" fill="none"/><rect x="577.15" y="264.95" width="111.40" height="111.80" fill="none" stroke="#000" stroke-opacity="0.6" stroke-width="0.9"/><rect x="709.70" y="307.80" width="15.80" height="59.50" fill="url(#jetbar)"/><rect x="710.10" y="308.20" width="15.00" height="58.70" fill="none" stroke="#000" stroke-opacity="0.65" stroke-width="0.8"/><path d="M709.70 315.77h2.6M725.50 315.77h-2.6" stroke="#000" stroke-opacity="0.8" stroke-width="1.1" fill="none"/>
<linearGradient id="cg2"><stop offset="0" stop-color="rgb(0,0,171)"/><stop offset="0.5" stop-color="rgb(0,0,153)"/><stop offset="1" stop-color="rgb(0,0,171)"/></linearGradient><circle cx="1520.00" cy="181.40" r="29.90" fill="url(#cg2)"/><path d="M1489.05 126.40V235.40" stroke="#fff" stroke-width="2.1" stroke-dasharray="5.50 2.50" fill="none"/><rect x="1465.45" y="126.55" width="108.40" height="108.70" fill="none" stroke="#000" stroke-opacity="0.6" stroke-width="0.9"/><rect x="1594.60" y="167.90" width="15.90" height="58.30" fill="url(#jetbar)"/><rect x="1595.00" y="168.30" width="15.10" height="57.50" fill="none" stroke="#000" stroke-opacity="0.65" stroke-width="0.8"/><path d="M1594.60 175.71h2.6M1610.50 175.71h-2.6" stroke="#000" stroke-opacity="0.8" stroke-width="1.1" fill="none"/>
<linearGradient id="cg3"><stop offset="0" stop-color="rgb(0,0,148)"/><stop offset="0.5" stop-color="rgb(0,0,130)"/><stop offset="1" stop-color="rgb(0,0,148)"/></linearGradient><circle cx="1518.00" cy="322.60" r="15.60" fill="url(#cg3)"/><path d="M1500.85 267.60V377.60" stroke="#fff" stroke-width="2.1" stroke-dasharray="5.50 2.50" fill="none"/><rect x="1463.25" y="267.75" width="109.70" height="109.70" fill="none" stroke="#000" stroke-opacity="0.6" stroke-width="0.9"/><rect x="1593.50" y="309.00" width="15.90" height="59.00" fill="url(#jetbar)"/><rect x="1593.90" y="309.40" width="15.10" height="58.20" fill="none" stroke="#000" stroke-opacity="0.65" stroke-width="0.8"/><path d="M1593.50 316.91h2.6M1609.40 316.91h-2.6" stroke="#000" stroke-opacity="0.8" stroke-width="1.1" fill="none"/>
<path d="M171.20 466.05L174.23 465.82L177.25 465.58L180.27 465.33L183.29 465.07L186.31 464.80L189.33 464.52L192.35 464.23L195.37 463.93L198.39 463.62L201.40 463.30L204.68 462.95L207.96 462.59L211.24 462.21L214.51 461.83L217.79 461.42L221.06 461.00L224.33 460.56L227.60 460.10L230.85 459.61L234.10 459.10L237.06 458.60L240.02 458.07L242.97 457.51L245.92 456.93L248.87 456.31L251.81 455.67L254.75 455.00L257.69 454.31L260.62 453.59L263.55 452.85L266.47 452.09L269.39 451.30L272.30 450.50L274.94 449.90L277.52 449.23L278.47 448.96L280.05 448.48L281.45 448.04L282.53 447.67L284.35 447.01L287.18 445.88L289.68 444.79L291.96 443.70L294.20 442.54L295.28 441.95L296.38 441.32L297.84 440.46L298.53 440.04L300.34 438.89L302.78 437.24L305.16 435.51L307.48 433.70L309.74 431.82L311.94 429.88L314.09 427.87L316.18 425.79L318.22 423.65L320.21 421.46L322.15 419.21L324.04 416.91L325.88 414.56L327.68 412.16L329.43 409.73L331.14 407.25L332.80 404.73L334.43 402.18L336.02 399.60L337.56 396.99L339.08 394.35L340.55 391.70L342.00 389.02L343.41 386.32L344.79 383.61L346.14 380.89L347.46 378.16L348.75 375.42L350.01 372.66L351.25 369.90L352.46 367.13L353.64 364.34L354.80 361.55L355.93 358.75L357.03 355.94L358.11 353.12L359.17 350.30L360.20 347.46L361.21 344.62L362.19 341.76L363.15 338.90L364.10 336.04L365.02 333.16L365.92 330.28L366.79 327.40L367.65 324.50L368.49 321.60L369.31 318.69L370.12 315.78L370.90 312.86L371.67 309.94L372.42 307.01L373.15 304.08L373.87 301.14L374.57 298.20L375.26 295.25L375.93 292.30L376.59 289.34L377.23 286.38L377.87 283.42L378.49 280.46L379.09 277.49L379.69 274.52L380.27 271.54L380.85 268.57L381.41 265.59L381.96 262.61L382.51 259.63L383.05 256.65L383.57 253.66L384.09 250.68L384.61 247.69L385.12 244.70L385.62 241.72L386.11 238.73L386.60 235.75L387.08 232.76L387.57 229.77L388.04 226.79L388.52 223.81L388.99 220.82L389.45 217.84L389.92 214.86L390.39 211.88L390.85 208.91L391.31 205.93L391.77 202.96L392.23 199.98L392.69 197.01L393.15 194.04L393.61 191.07L394.07 188.10L394.54 185.13L395.00 182.16L395.46 179.19L395.93 176.22L396.39 173.25L396.86 170.29L397.33 167.32L397.81 164.35L398.28 161.38L398.76 158.41L399.25 155.44L399.73 152.47L400.22 149.50L400.72 146.52L401.22 143.55L401.72 140.58L402.23 137.60L402.74 134.62L403.26 131.65L403.79 128.67L404.32 125.69L404.86 122.71L405.40 119.72L405.95 116.74L406.51 113.75L407.07 110.76L407.65 107.77L408.07 105.59L408.23 104.77L408.56 103.06L408.81 101.78L409.06 100.54L409.43 98.79L410.10 95.83L410.83 93.08L411.58 90.67L412.46 88.32L412.88 87.31L413.47 86.05L414.19 84.67L414.65 83.86L415.75 82.16L417.60 79.80L418.95 81.86L420.10 84.02L420.49 84.85L421.09 86.28L421.58 87.57L421.95 88.61L422.50 90.38L423.28 93.25L423.90 95.89L424.43 98.37L424.92 100.86L425.15 102.06L425.38 103.35L425.66 105.03L425.80 105.86L426.14 108.01L426.57 111.00L426.98 113.99L427.35 117.00L427.69 120.01L428.02 123.02L428.33 126.04L428.63 129.06L428.92 132.08L429.21 135.10L429.49 138.12L429.77 141.13L430.04 144.15L430.30 147.17L430.56 150.18L430.82 153.20L431.07 156.21L431.32 159.23L431.56 162.24L431.80 165.26L432.03 168.27L432.26 171.28L432.49 174.30L432.71 177.31L432.93 180.32L433.14 183.33L433.36 186.34L433.56 189.36L433.77 192.37L433.97 195.38L434.17 198.39L434.37 201.40L434.56 204.41L434.75 207.42L434.94 210.43L435.12 213.44L435.31 216.44L435.49 219.45L435.67 222.46L435.84 225.47L436.02 228.48L436.19 231.49L436.36 234.49L436.53 237.50L436.70 240.51L436.87 243.52L437.04 246.52L437.20 249.53L437.37 252.54L437.53 255.55L437.69 258.55L437.86 261.56L438.02 264.57L438.18 267.57L438.34 270.58L438.50 273.59L438.67 276.59L438.83 279.60L438.99 282.61L439.15 285.62L439.32 288.62L439.48 291.63L439.64 294.64L439.81 297.64L439.97 300.65L440.14 303.66L440.31 306.67L440.48 309.67L440.65 312.68L440.82 315.69L441.00 318.70L441.17 321.71L441.35 324.71L441.53 327.72L441.71 330.73L441.90 333.74L442.09 336.75L442.27 339.76L442.47 342.77L442.66 345.78L442.86 348.79L443.06 351.80L443.26 354.81L443.47 357.82L443.68 360.83L443.89 363.85L444.11 366.86L444.27 369.03L444.33 369.87L444.46 371.57L444.55 372.88L444.65 374.11L444.78 375.90L445.02 378.91L445.24 381.74L445.44 384.28L445.64 386.82L445.74 387.95L445.85 389.37L445.99 390.97L446.07 391.91L446.24 393.98L446.50 397.00L446.75 394.47L446.99 391.93L447.08 391.00L447.23 389.40L447.36 388.00L447.47 386.86L447.64 385.00L447.91 382.00L448.16 379.26L448.38 376.72L448.59 374.19L448.70 373.00L448.81 371.65L448.95 370.00L449.02 369.11L449.19 367.00L449.44 364.00L449.67 361.00L449.91 357.99L450.14 354.99L450.36 351.99L450.58 348.99L450.80 345.98L451.01 342.98L451.22 339.97L451.43 336.97L451.63 333.97L451.83 330.96L452.03 327.96L452.22 324.95L452.41 321.95L452.60 318.94L452.79 315.94L452.97 312.93L453.15 309.92L453.33 306.92L453.51 303.91L453.68 300.90L453.86 297.90L454.03 294.89L454.20 291.88L454.36 288.88L454.53 285.87L454.70 282.86L454.86 279.86L455.03 276.85L455.19 273.84L455.35 270.83L455.51 267.82L455.67 264.82L455.83 261.81L455.99 258.80L456.15 255.79L456.32 252.79L456.48 249.78L456.64 246.77L456.80 243.76L456.96 240.75L457.12 237.74L457.29 234.74L457.45 231.73L457.62 228.72L457.78 225.71L457.95 222.70L458.12 219.70L458.29 216.69L458.46 213.68L458.64 210.67L458.81 207.66L458.99 204.65L459.17 201.65L459.35 198.64L459.54 195.63L459.73 192.62L459.92 189.62L460.11 186.61L460.30 183.60L460.50 180.59L460.71 177.59L460.91 174.58L461.12 171.57L461.33 168.57L461.55 165.56L461.77 162.55L461.99 159.55L462.22 156.54L462.45 153.54L462.69 150.53L462.93 147.52L463.17 144.52L463.42 141.51L463.68 138.51L463.94 135.50L464.20 132.50L464.47 129.49L464.75 126.49L465.03 123.49L465.31 120.48L465.60 117.48L465.90 114.48L466.20 111.47L466.51 108.47L466.83 105.47L467.16 102.47L467.52 99.48L467.90 96.50L468.20 94.40L468.34 93.53L468.60 91.90L468.83 90.58L469.04 89.42L469.38 87.64L470.01 84.74L470.66 82.06L471.33 79.65L472.07 77.26L472.43 76.20L472.89 74.90L473.46 73.42L473.80 72.57L474.60 70.68L475.90 68.00L476.97 70.27L477.98 72.57L478.34 73.42L478.93 74.89L479.43 76.18L479.83 77.23L480.47 78.97L481.44 81.79L482.27 84.37L483.01 86.78L483.71 89.20L484.03 90.36L484.38 91.64L484.81 93.25L485.03 94.08L485.56 96.16L486.28 99.07L486.97 101.99L487.64 104.92L488.28 107.85L488.90 110.80L489.50 113.75L490.07 116.71L490.63 119.67L491.17 122.64L491.70 125.61L492.20 128.59L492.70 131.57L493.18 134.56L493.64 137.55L494.10 140.54L494.55 143.54L494.99 146.54L495.42 149.54L495.85 152.54L496.27 155.55L496.69 158.55L497.10 161.56L497.52 164.56L497.93 167.57L498.35 170.57L498.77 173.57L499.19 176.57L499.62 179.57L500.06 182.57L500.50 185.56L500.94 188.55L501.40 191.54L501.86 194.53L502.32 197.51L502.79 200.49L503.27 203.47L503.76 206.45L504.25 209.42L504.75 212.40L505.25 215.37L505.76 218.34L506.27 221.31L506.79 224.27L507.32 227.23L507.85 230.20L508.39 233.16L508.94 236.12L509.49 239.07L510.05 242.03L510.61 244.98L511.18 247.94L511.75 250.89L512.33 253.84L512.91 256.79L513.50 259.74L514.10 262.68L514.70 265.63L515.31 268.57L515.92 271.52L516.54 274.46L517.16 277.40L517.79 280.35L518.42 283.29L519.06 286.23L519.71 289.17L520.36 292.11L521.01 295.05L521.67 297.98L522.34 300.92L523.01 303.86L523.68 306.80L524.36 309.74L525.05 312.67L525.74 315.61L526.44 318.55L527.14 321.49L527.84 324.42L528.56 327.36L529.28 330.29L530.02 333.22L530.78 336.15L531.55 339.07L532.34 341.98L533.16 344.88L534.01 347.78L534.88 350.67L535.79 353.54L536.72 356.40L537.70 359.26L538.71 362.09L539.76 364.91L540.86 367.72L542.01 370.51L543.20 373.28L544.44 376.03L545.74 378.76L547.08 381.46L548.48 384.15L549.93 386.80L551.42 389.43L552.97 392.04L554.56 394.61L556.20 397.15L557.89 399.66L559.63 402.13L561.42 404.57L563.25 406.96L565.13 409.32L567.06 411.64L569.04 413.92L571.06 416.15L573.13 418.34L575.24 420.48L577.40 422.57L579.60 424.61L581.85 426.60L584.15 428.54L586.49 430.42L588.87 432.25L591.29 434.02L593.05 435.24L593.76 435.73L595.16 436.65L596.28 437.38L597.30 438.02L598.83 438.96L601.43 440.49L603.90 441.85L606.16 443.03L608.45 444.17L609.48 444.66L610.77 445.25L612.25 445.91L613.12 446.29L615.05 447.09L617.90 448.20L620.78 449.11L623.67 450.00L626.57 450.86L629.47 451.70L632.38 452.52L635.29 453.31L638.20 454.08L641.12 454.81L644.05 455.52L646.98 456.19L649.91 456.83L652.85 457.43L655.80 458.00L658.80 458.55L661.80 459.07L664.81 459.58L667.83 460.06L670.86 460.52L673.89 460.97L676.92 461.40L679.95 461.81L682.99 462.20L686.03 462.58L689.06 462.95L692.10 463.30L695.13 463.64L698.15 463.97L701.18 464.29L704.21 464.59L707.25 464.88L710.28 465.16L713.32 465.42L716.36 465.67L719.40 465.90" fill="none" stroke="#0000ff" stroke-width="8.0" stroke-linejoin="round" stroke-linecap="butt"/>
<path d="M266.10 474.00L267.00 473.93L267.90 473.87L268.80 473.81L269.71 473.76L270.61 473.70L271.51 473.65L272.41 473.61L273.31 473.57L274.21 473.53L275.12 473.49L276.02 473.46L278.04 473.40L280.03 473.35L282.02 473.31L284.02 473.28L286.01 473.26L288.01 473.24L290.00 473.23L292.00 473.23L294.00 473.23L296.00 473.23L298.00 473.22L300.00 473.22L302.01 473.22L304.02 473.21L306.03 473.20L308.04 473.18L310.06 473.16L312.07 473.12L314.09 473.08L316.12 473.02L318.14 472.95L320.17 472.86L322.20 472.76L324.24 472.65L326.28 472.51L328.32 472.36L330.37 472.18L332.42 471.99L334.47 471.76L336.52 471.52L338.57 471.24L340.62 470.94L342.65 470.61L344.68 470.24L346.70 469.84L348.70 469.41L350.68 468.94L352.65 468.43L354.60 467.87L356.52 467.28L358.42 466.64L360.29 465.96L362.13 465.23L363.94 464.45L365.72 463.62L367.46 462.74L369.15 461.80L370.81 460.81L372.43 459.76L374.00 458.65L375.52 457.48L376.99 456.25L378.42 454.97L379.80 453.63L381.14 452.24L382.43 450.80L383.68 449.32L384.89 447.79L386.06 446.22L387.19 444.61L388.29 442.96L389.34 441.28L390.36 439.56L391.34 437.82L392.28 436.05L393.19 434.25L394.07 432.43L394.92 430.59L395.73 428.73L396.52 426.85L397.27 424.97L398.00 423.07L398.70 421.16L399.37 419.25L400.02 417.33L400.64 415.40L401.24 413.47L401.81 411.53L402.37 409.59L402.90 407.64L403.41 405.69L403.90 403.73L404.38 401.77L404.83 399.81L405.27 397.84L405.70 395.87L406.11 393.90L406.50 391.92L406.88 389.94L407.25 387.96L407.61 385.98L407.96 383.99L408.29 382.01L408.62 380.02L408.95 378.03L409.26 376.04L409.57 374.05L409.87 372.06L410.17 370.07L410.46 368.08L410.74 366.09L411.02 364.10L411.30 362.11L411.57 360.12L411.83 358.12L412.09 356.13L412.35 354.14L412.60 352.14L412.84 350.15L413.08 348.15L413.32 346.16L413.55 344.16L413.78 342.17L414.01 340.17L414.23 338.18L414.45 336.18L414.66 334.19L414.88 332.19L415.08 330.19L415.29 328.20L415.49 326.20L415.70 324.20L415.89 322.21L416.09 320.21L416.28 318.21L416.48 316.22L416.67 314.22L416.86 312.22L417.04 310.23L417.23 308.23L417.41 306.23L417.60 304.23L417.78 302.24L417.96 300.24L418.14 298.24L418.32 296.25L418.50 294.25L418.68 292.25L418.86 290.25L419.04 288.26L419.22 286.26L419.39 284.27L419.57 282.27L419.76 280.27L419.94 278.28L420.12 276.28L420.30 274.29L420.49 272.29L420.67 270.30L420.86 268.30L421.05 266.31L421.24 264.32L421.43 262.32L421.62 260.33L421.82 258.34L422.02 256.34L422.22 254.35L422.42 252.36L422.63 250.37L422.84 248.38L423.05 246.39L423.27 244.40L423.49 242.41L423.71 240.42L423.93 238.43L424.16 236.44L424.40 234.45L424.63 232.47L424.88 230.48L425.12 228.49L425.37 226.51L425.63 224.52L425.89 222.54L426.15 220.56L426.42 218.57L426.70 216.59L426.98 214.61L427.26 212.63L427.55 210.65L427.85 208.67L428.15 206.69L428.46 204.71L428.78 202.73L429.10 200.75L429.42 198.78L429.76 196.80L430.10 194.83L430.45 192.85L430.61 191.93L430.77 191.04L430.94 190.14L431.10 189.25L431.27 188.35L431.43 187.46L431.60 186.57L431.77 185.68L431.95 184.78L432.12 183.89L432.30 183.00" fill="none" stroke="#ff0000" stroke-width="7.8" stroke-linejoin="round" stroke-dasharray="7.70 7.55" stroke-dashoffset="0.00"/>
<path d="M431.53 186.94L431.77 185.68L431.95 184.78L432.12 183.89L432.30 183.00L432.43 183.90L432.55 184.80L432.68 185.70L432.85 186.98" fill="none" stroke="#ff0000" stroke-width="7.8" stroke-linejoin="round"/>
<path d="M432.30 183.00L432.43 183.90L432.55 184.80L432.68 185.70L432.80 186.60L432.92 187.50L433.04 188.40L433.16 189.30L433.28 190.20L433.39 191.10L433.51 192.00L433.62 192.91L433.88 194.96L434.12 196.96L434.35 198.95L434.58 200.95L434.81 202.95L435.03 204.95L435.24 206.94L435.45 208.94L435.66 210.94L435.85 212.94L436.05 214.94L436.24 216.94L436.42 218.94L436.60 220.94L436.78 222.95L436.95 224.95L437.11 226.95L437.27 228.95L437.43 230.96L437.58 232.96L437.73 234.97L437.88 236.97L438.02 238.98L438.15 240.98L438.29 242.99L438.42 244.99L438.54 247.00L438.66 249.01L438.78 251.01L438.90 253.02L439.01 255.03L439.12 257.04L439.23 259.04L439.33 261.05L439.43 263.06L439.52 265.07L439.62 267.08L439.71 269.09L439.80 271.10L439.88 273.11L439.97 275.12L440.05 277.13L440.13 279.14L440.20 281.15L440.28 283.16L440.35 285.17L440.42 287.19L440.49 289.20L440.55 291.21L440.62 293.22L440.68 295.23L440.74 297.25L440.80 299.26L440.86 301.27L440.92 303.28L440.97 305.30L441.03 307.31L441.08 309.32L441.14 311.34L441.19 313.35L441.24 315.36L441.29 317.38L441.34 319.39L441.39 321.40L441.44 323.42L441.48 325.43L441.53 327.44L441.58 329.46L441.63 331.47L441.67 333.48L441.72 335.50L441.77 337.51L441.81 339.52L441.86 341.54L441.91 343.55L441.96 345.57L442.01 347.58L442.06 349.59L442.11 351.61L442.16 353.62L442.21 355.63L442.26 357.65L442.31 359.66L442.37 361.67L442.42 363.69L442.48 365.70L442.54 367.71L442.60 369.72L442.66 371.74L442.72 373.75L442.79 375.76L442.85 377.77L442.92 379.78L442.99 381.80L443.06 383.81L443.14 385.82L443.21 387.83L443.29 389.84L443.37 391.85L443.45 393.86L443.54 395.87L443.62 397.88L443.72 399.89L443.81 401.90L443.90 403.91L444.00 405.92L444.10 407.93L444.21 409.94L444.32 411.95L444.43 413.95L444.54 415.96L444.66 417.97L444.72 418.94L444.77 419.84L444.83 420.75L444.88 421.66L444.94 422.56L445.00 423.47L445.06 424.38L445.12 425.28L445.18 426.19L445.24 427.09L445.30 428.00" fill="none" stroke="#ff0000" stroke-width="7.8" stroke-linejoin="round" stroke-dasharray="7.70 7.55" stroke-dashoffset="3.29"/>
<path d="M445.03 423.99L445.30 431.40L445.53 423.97" fill="none" stroke="#ff0000" stroke-width="7.8" stroke-linejoin="bevel"/>
<path d="M445.30 428.00L445.35 427.09L445.40 426.18L445.46 425.27L445.51 424.37L445.56 423.46L445.61 422.55L445.66 421.64L445.71 420.73L445.76 419.82L445.81 418.92L445.86 418.01L445.97 415.91L446.08 413.90L446.18 411.88L446.28 409.87L446.38 407.86L446.48 405.84L446.58 403.83L446.68 401.81L446.77 399.80L446.87 397.79L446.96 395.77L447.05 393.76L447.14 391.75L447.23 389.73L447.32 387.72L447.40 385.71L447.49 383.69L447.57 381.68L447.65 379.67L447.74 377.66L447.82 375.64L447.89 373.63L447.97 371.62L448.05 369.60L448.12 367.59L448.20 365.58L448.27 363.56L448.34 361.55L448.41 359.54L448.48 357.52L448.55 355.51L448.62 353.50L448.69 351.48L448.75 349.47L448.82 347.45L448.88 345.44L448.95 343.43L449.01 341.41L449.07 339.40L449.13 337.38L449.19 335.37L449.25 333.36L449.31 331.34L449.37 329.33L449.43 327.31L449.48 325.30L449.54 323.28L449.59 321.26L449.65 319.25L449.70 317.23L449.76 315.22L449.81 313.20L449.86 311.18L449.91 309.17L449.97 307.15L450.02 305.13L450.07 303.12L450.12 301.10L450.17 299.08L450.22 297.06L450.26 295.04L450.31 293.03L450.36 291.01L450.41 288.99L450.46 286.97L450.50 284.95L450.55 282.93L450.60 280.91L450.64 278.89L450.69 276.87L450.74 274.85L450.79 272.83L450.84 270.81L450.90 268.79L450.95 266.77L451.01 264.75L451.07 262.73L451.14 260.71L451.21 258.69L451.28 256.67L451.35 254.65L451.43 252.64L451.52 250.62L451.61 248.61L451.71 246.59L451.81 244.58L451.91 242.57L452.03 240.56L452.15 238.55L452.28 236.54L452.41 234.53L452.55 232.52L452.70 230.52L452.86 228.52L453.03 226.51L453.20 224.51L453.39 222.52L453.58 220.52L453.79 218.52L454.00 216.53L454.23 214.54L454.46 212.55L454.71 210.56L454.97 208.58L455.24 206.60L455.52 204.62L455.81 202.64L456.12 200.66L456.44 198.69L456.77 196.72L457.12 194.75L457.48 192.78L457.66 191.82L457.83 190.94L458.00 190.05L458.18 189.17L458.36 188.28L458.54 187.40L458.72 186.52L458.91 185.64L459.10 184.76L459.30 183.88L459.50 183.00" fill="none" stroke="#ff0000" stroke-width="7.8" stroke-linejoin="round" stroke-dasharray="7.70 7.59" stroke-dashoffset="13.46"/>
<path d="M458.64 186.90L458.91 185.64L459.10 184.76L459.30 183.88L459.50 183.00L459.65 183.90L459.79 184.81L459.93 185.72L460.12 186.99" fill="none" stroke="#ff0000" stroke-width="7.8" stroke-linejoin="round"/>
<path d="M459.50 183.00L459.65 183.90L459.79 184.81L459.93 185.72L460.07 186.62L460.20 187.53L460.34 188.43L460.48 189.34L460.61 190.24L460.75 191.15L460.88 192.05L461.01 192.95L461.30 194.97L461.59 196.97L461.87 198.96L462.14 200.96L462.41 202.95L462.68 204.94L462.94 206.93L463.20 208.93L463.45 210.92L463.70 212.91L463.95 214.90L464.20 216.89L464.44 218.88L464.67 220.87L464.91 222.86L465.14 224.84L465.37 226.83L465.59 228.82L465.82 230.81L466.04 232.80L466.26 234.78L466.47 236.77L466.68 238.76L466.90 240.75L467.10 242.73L467.31 244.72L467.52 246.70L467.72 248.69L467.92 250.68L468.12 252.66L468.32 254.65L468.52 256.63L468.71 258.62L468.91 260.61L469.10 262.59L469.30 264.58L469.49 266.56L469.68 268.55L469.87 270.53L470.06 272.52L470.25 274.50L470.44 276.49L470.63 278.48L470.82 280.46L471.01 282.45L471.20 284.43L471.39 286.42L471.58 288.40L471.78 290.39L471.97 292.38L472.16 294.36L472.35 296.35L472.55 298.34L472.74 300.32L472.94 302.31L473.14 304.30L473.34 306.29L473.54 308.28L473.74 310.26L473.94 312.25L474.15 314.24L474.36 316.23L474.57 318.22L474.78 320.21L474.99 322.20L475.21 324.19L475.43 326.18L475.65 328.17L475.87 330.17L476.10 332.16L476.33 334.15L476.56 336.14L476.79 338.14L477.03 340.13L477.28 342.13L477.52 344.12L477.77 346.12L478.02 348.11L478.28 350.11L478.54 352.11L478.80 354.10L479.07 356.10L479.34 358.10L479.62 360.10L479.90 362.10L480.18 364.10L480.47 366.10L480.77 368.11L481.06 370.11L481.37 372.11L481.68 374.12L481.99 376.12L482.31 378.13L482.63 380.13L482.96 382.14L483.30 384.15L483.64 386.16L483.99 388.16L484.35 390.17L484.71 392.17L485.09 394.18L485.48 396.17L485.89 398.17L486.31 400.16L486.74 402.14L487.19 404.11L487.66 406.08L488.15 408.04L488.66 409.99L489.19 411.93L489.75 413.86L490.32 415.78L490.93 417.69L491.56 419.58L492.21 421.46L492.90 423.33L493.61 425.18L494.36 427.02L495.14 428.83L495.95 430.63L496.80 432.41L497.68 434.18L498.60 435.92L499.56 437.64L500.56 439.34L501.60 441.02L502.68 442.67L503.80 444.30L504.96 445.90L506.16 447.47L507.41 449.01L508.69 450.50L510.01 451.97L511.38 453.39L512.78 454.76L514.22 456.09L515.71 457.38L517.23 458.61L518.79 459.79L520.39 460.91L522.03 461.98L523.70 462.98L525.42 463.93L527.16 464.82L528.94 465.65L530.75 466.43L532.58 467.14L534.44 467.81L536.33 468.42L538.23 468.97L540.16 469.48L542.10 469.94L544.06 470.35L546.04 470.72L548.03 471.05L550.04 471.35L552.05 471.60L554.08 471.83L556.12 472.02L558.16 472.18L560.22 472.32L562.27 472.43L564.34 472.53L566.40 472.60L568.47 472.66L570.53 472.70L572.59 472.73L574.66 472.75L576.71 472.76L578.76 472.77L580.81 472.78L582.84 472.79L584.87 472.80L586.89 472.80L588.91 472.81L590.92 472.83L592.92 472.84L594.92 472.86L596.91 472.88L598.90 472.90L600.89 472.93L602.87 472.96L604.86 472.99L606.84 473.04L608.82 473.08L610.80 473.13L612.78 473.19L614.76 473.26L615.68 473.29L616.58 473.33L617.48 473.36L618.38 473.40L619.28 473.44L620.18 473.48L621.09 473.52L621.99 473.56L622.89 473.61L623.79 473.65L624.70 473.70" fill="none" stroke="#ff0000" stroke-width="7.8" stroke-linejoin="round" stroke-dasharray="7.70 7.60" stroke-dashoffset="2.19"/>
<rect x="521.2" y="12.7" width="242.3" height="110.0" fill="#fff" stroke="#262626" stroke-width="4.3"/>
<path d="M532.7 42H595.0" stroke="#0000ff" stroke-width="8.6"/>
<path d="M532.7 93.4H595.7" stroke="#ff0000" stroke-width="8.6" stroke-dasharray="8.2 7.4"/>
<g font-family='"Liberation Sans", Arial, Helvetica, sans-serif' font-weight="bold" font-size="39.9" fill="#000"><text x="600.5" y="58.2">R=55nm</text><text x="600.5" y="109.8">R=25nm</text></g>
<path d="M1028.90 463.00L1032.26 463.39L1035.62 463.72L1038.97 463.97L1042.33 464.16L1045.69 464.30L1049.04 464.38L1052.40 464.40L1055.43 464.36L1058.47 464.24L1061.51 464.05L1064.55 463.81L1067.58 463.53L1070.60 463.22L1073.60 462.90L1076.66 462.49L1079.71 461.93L1082.76 461.25L1085.79 460.49L1088.81 459.68L1091.81 458.84L1094.80 458.00L1097.71 457.17L1100.62 456.31L1103.52 455.41L1106.41 454.48L1109.29 453.52L1112.16 452.52L1115.03 451.49L1117.89 450.42L1120.73 449.32L1123.57 448.19L1126.39 447.02L1129.21 445.81L1132.01 444.57L1134.80 443.30L1137.17 442.29L1139.52 441.24L1140.39 440.84L1141.84 440.15L1143.13 439.53L1144.14 439.02L1145.84 438.16L1148.51 436.73L1150.90 435.40L1153.10 434.12L1155.28 432.80L1156.33 432.15L1157.43 431.45L1158.86 430.52L1159.56 430.06L1161.37 428.84L1163.83 427.11L1166.27 425.34L1168.66 423.52L1171.03 421.66L1173.35 419.75L1175.65 417.81L1177.91 415.82L1180.13 413.79L1182.32 411.73L1184.47 409.62L1186.59 407.48L1188.68 405.31L1190.73 403.10L1192.74 400.86L1194.72 398.59L1196.66 396.29L1198.57 393.95L1200.44 391.59L1202.28 389.21L1204.09 386.79L1205.85 384.36L1207.58 381.89L1209.28 379.41L1210.94 376.91L1212.57 374.38L1214.16 371.84L1215.71 369.28L1217.23 366.70L1218.71 364.10L1220.17 361.48L1221.59 358.85L1222.97 356.21L1224.33 353.54L1225.65 350.86L1226.94 348.17L1228.20 345.46L1229.44 342.73L1230.64 340.00L1231.82 337.24L1232.96 334.48L1234.09 331.70L1235.18 328.91L1236.25 326.11L1237.29 323.29L1238.31 320.46L1239.30 317.63L1240.27 314.78L1241.22 311.92L1242.14 309.05L1243.04 306.17L1243.92 303.28L1244.78 300.38L1245.62 297.47L1246.44 294.56L1247.24 291.64L1248.03 288.71L1248.79 285.77L1249.54 282.82L1250.27 279.87L1250.98 276.91L1251.68 273.95L1252.36 270.98L1253.03 268.01L1253.69 265.03L1254.33 262.05L1254.96 259.07L1255.58 256.08L1256.18 253.08L1256.78 250.09L1257.36 247.09L1257.94 244.09L1258.50 241.09L1259.06 238.08L1259.61 235.08L1260.15 232.08L1260.68 229.07L1261.21 226.07L1261.73 223.06L1262.25 220.06L1262.76 217.06L1263.27 214.06L1263.78 211.06L1264.28 208.06L1264.78 205.07L1265.28 202.08L1265.78 199.09L1266.27 196.11L1266.77 193.13L1267.27 190.16L1267.77 187.19L1268.27 184.22L1268.77 181.26L1269.28 178.30L1269.79 175.35L1270.31 172.40L1270.83 169.45L1271.36 166.50L1271.89 163.56L1272.43 160.62L1272.98 157.68L1273.54 154.74L1274.11 151.80L1274.69 148.87L1275.28 145.93L1275.88 143.00L1276.49 140.06L1277.12 137.12L1277.76 134.19L1278.42 131.25L1279.09 128.31L1279.77 125.37L1280.48 122.43L1281.00 120.30L1281.20 119.49L1281.61 117.82L1281.93 116.54L1282.24 115.34L1282.70 113.60L1283.51 110.67L1284.35 107.96L1285.18 105.57L1286.12 103.25L1286.58 102.24L1287.18 100.99L1287.92 99.62L1288.38 98.82L1289.48 97.13L1291.30 94.80L1292.74 96.87L1294.00 99.03L1294.43 99.86L1295.10 101.26L1295.65 102.54L1296.05 103.55L1296.67 105.30L1297.54 108.13L1298.19 110.71L1298.73 113.17L1299.19 115.66L1299.40 116.90L1299.60 118.17L1299.86 119.89L1299.97 120.69L1300.27 122.89L1300.66 125.90L1301.04 128.92L1301.41 131.93L1301.77 134.94L1302.12 137.95L1302.46 140.96L1302.80 143.97L1303.13 146.99L1303.45 150.00L1303.76 153.01L1304.07 156.02L1304.37 159.04L1304.66 162.05L1304.95 165.06L1305.23 168.07L1305.50 171.09L1305.77 174.10L1306.03 177.11L1306.28 180.13L1306.53 183.14L1306.77 186.15L1307.01 189.17L1307.24 192.18L1307.46 195.20L1307.68 198.21L1307.89 201.22L1308.10 204.24L1308.31 207.25L1308.51 210.27L1308.70 213.28L1308.89 216.30L1309.08 219.31L1309.26 222.33L1309.44 225.34L1309.61 228.36L1309.78 231.37L1309.94 234.39L1310.11 237.40L1310.26 240.42L1310.42 243.43L1310.57 246.45L1310.72 249.47L1310.87 252.48L1311.01 255.50L1311.15 258.51L1311.29 261.53L1311.42 264.55L1311.56 267.56L1311.69 270.58L1311.82 273.59L1311.95 276.61L1312.07 279.63L1312.20 282.64L1312.32 285.66L1312.44 288.68L1312.56 291.69L1312.68 294.71L1312.80 297.73L1312.92 300.74L1313.03 303.76L1313.15 306.78L1313.27 309.79L1313.38 312.81L1313.50 315.83L1313.61 318.85L1313.73 321.86L1313.85 324.88L1313.97 327.90L1314.08 330.91L1314.20 333.93L1314.32 336.95L1314.44 339.97L1314.56 342.98L1314.69 346.00L1314.81 349.02L1314.94 352.04L1315.06 355.05L1315.19 358.07L1315.32 361.09L1315.46 364.11L1315.59 367.12L1315.73 370.14L1315.87 373.16L1316.02 376.18L1316.16 379.19L1316.31 382.21L1316.46 385.23L1316.62 388.25L1316.78 391.27L1316.94 394.28L1317.10 397.30L1317.27 400.32L1317.45 403.34L1317.62 406.35L1317.80 409.37L1317.99 412.39L1318.18 415.41L1318.37 418.42L1318.52 420.64L1318.57 421.44L1318.69 423.18L1318.78 424.46L1318.86 425.72L1318.99 427.48L1319.20 430.49L1319.41 433.35L1319.60 435.89L1319.79 438.43L1319.88 439.55L1319.99 440.97L1320.11 442.57L1320.19 443.52L1320.35 445.58L1320.60 448.60L1320.75 446.05L1320.90 443.50L1320.95 442.57L1321.05 440.95L1321.13 439.55L1321.20 438.41L1321.30 436.54L1321.48 433.53L1321.63 430.76L1321.78 428.22L1321.92 425.67L1321.99 424.49L1322.07 423.12L1322.16 421.47L1322.21 420.58L1322.33 418.46L1322.49 415.45L1322.66 412.44L1322.82 409.43L1322.99 406.42L1323.15 403.41L1323.32 400.40L1323.48 397.39L1323.64 394.38L1323.80 391.37L1323.96 388.36L1324.12 385.35L1324.28 382.35L1324.43 379.34L1324.59 376.33L1324.75 373.32L1324.90 370.32L1325.06 367.31L1325.22 364.31L1325.37 361.30L1325.52 358.29L1325.68 355.29L1325.83 352.28L1325.98 349.28L1326.14 346.27L1326.29 343.27L1326.44 340.26L1326.59 337.26L1326.74 334.26L1326.89 331.25L1327.04 328.25L1327.19 325.25L1327.34 322.24L1327.50 319.24L1327.65 316.24L1327.80 313.23L1327.94 310.23L1328.09 307.23L1328.24 304.22L1328.39 301.22L1328.54 298.22L1328.69 295.22L1328.84 292.21L1328.99 289.21L1329.14 286.21L1329.29 283.21L1329.44 280.20L1329.59 277.20L1329.75 274.20L1329.90 271.20L1330.05 268.19L1330.20 265.19L1330.35 262.19L1330.50 259.19L1330.66 256.18L1330.81 253.18L1330.96 250.18L1331.12 247.17L1331.27 244.17L1331.42 241.17L1331.58 238.17L1331.74 235.16L1331.89 232.16L1332.05 229.16L1332.21 226.15L1332.36 223.15L1332.52 220.14L1332.68 217.14L1332.84 214.14L1333.00 211.13L1333.16 208.13L1333.33 205.12L1333.49 202.12L1333.65 199.11L1333.82 196.11L1333.98 193.10L1334.15 190.10L1334.32 187.09L1334.48 184.08L1334.65 181.08L1334.82 178.07L1335.00 175.06L1335.17 172.05L1335.34 169.05L1335.52 166.04L1335.69 163.03L1335.87 160.02L1336.04 157.01L1336.22 154.00L1336.40 150.99L1336.59 147.98L1336.77 144.97L1336.95 141.96L1337.14 138.95L1337.32 135.94L1337.51 132.93L1337.70 129.91L1337.89 126.90L1338.08 123.89L1338.28 120.87L1338.47 117.86L1338.67 114.84L1338.87 111.83L1339.07 108.81L1339.27 105.80L1339.47 102.78L1339.67 99.76L1339.88 96.75L1340.09 93.73L1340.30 90.71L1340.51 87.69L1340.72 84.67L1340.93 81.65L1341.15 78.63L1341.37 75.61L1341.59 72.59L1341.82 69.57L1342.05 66.55L1342.31 63.53L1342.59 60.53L1342.89 57.52L1343.23 54.53L1343.60 51.55L1344.02 48.58L1344.49 45.63L1344.84 43.56L1345.00 42.69L1345.31 41.08L1345.58 39.77L1345.82 38.62L1346.21 36.86L1346.92 33.98L1347.64 31.32L1348.35 28.92L1349.13 26.54L1349.51 25.48L1350.00 24.20L1350.60 22.74L1350.98 21.91L1351.88 20.10L1353.40 17.60L1354.75 19.70L1355.95 21.88L1356.36 22.67L1357.05 24.11L1357.59 25.33L1358.04 26.39L1358.68 28.06L1359.66 30.84L1360.49 33.50L1361.17 35.94L1361.81 38.39L1362.07 39.45L1362.41 40.86L1362.76 42.38L1362.98 43.35L1363.42 45.31L1364.07 48.24L1364.71 51.18L1365.34 54.11L1365.96 57.05L1366.57 59.99L1367.18 62.92L1367.77 65.86L1368.36 68.80L1368.94 71.74L1369.51 74.68L1370.08 77.62L1370.63 80.57L1371.19 83.51L1371.73 86.45L1372.27 89.40L1372.81 92.34L1373.34 95.28L1373.87 98.23L1374.39 101.18L1374.90 104.12L1375.42 107.07L1375.93 110.02L1376.43 112.97L1376.94 115.92L1377.44 118.86L1377.94 121.81L1378.43 124.76L1378.93 127.72L1379.42 130.67L1379.91 133.62L1380.41 136.57L1380.90 139.52L1381.39 142.47L1381.88 145.43L1382.37 148.38L1382.87 151.33L1383.36 154.29L1383.86 157.24L1384.36 160.20L1384.86 163.15L1385.36 166.11L1385.86 169.06L1386.37 172.02L1386.88 174.98L1387.40 177.93L1387.92 180.89L1388.44 183.85L1388.97 186.80L1389.50 189.76L1390.04 192.72L1390.58 195.67L1391.13 198.63L1391.69 201.59L1392.25 204.55L1392.82 207.50L1393.40 210.46L1393.98 213.42L1394.57 216.38L1395.17 219.34L1395.78 222.29L1396.39 225.25L1397.02 228.21L1397.66 231.17L1398.30 234.12L1398.96 237.07L1399.63 240.02L1400.31 242.97L1401.01 245.91L1401.72 248.85L1402.44 251.79L1403.18 254.72L1403.94 257.64L1404.71 260.56L1405.50 263.48L1406.30 266.38L1407.13 269.28L1407.97 272.18L1408.83 275.06L1409.71 277.94L1410.61 280.81L1411.54 283.67L1412.48 286.52L1413.45 289.36L1414.44 292.18L1415.46 295.00L1416.49 297.81L1417.56 300.61L1418.65 303.39L1419.76 306.16L1420.90 308.92L1422.07 311.66L1423.27 314.39L1424.49 317.10L1425.75 319.80L1427.03 322.49L1428.35 325.16L1429.69 327.81L1431.07 330.45L1432.48 333.07L1433.92 335.67L1435.40 338.25L1436.91 340.82L1438.45 343.37L1440.03 345.89L1441.65 348.40L1443.30 350.89L1444.99 353.36L1446.72 355.80L1448.49 358.23L1450.29 360.63L1452.13 363.00L1454.01 365.35L1455.92 367.67L1457.87 369.97L1459.86 372.23L1461.89 374.46L1463.95 376.65L1466.05 378.81L1468.18 380.94L1470.35 383.02L1472.56 385.07L1474.80 387.08L1477.07 389.04L1479.39 390.96L1481.73 392.84L1484.12 394.67L1486.53 396.45L1488.98 398.19L1491.47 399.87L1493.99 401.50L1496.54 403.08L1498.26 404.10L1499.13 404.60L1500.48 405.36L1501.75 406.06L1502.71 406.59L1504.40 407.47L1507.09 408.82L1509.56 410.00L1511.89 411.05L1514.25 412.05L1515.35 412.50L1516.63 413.01L1518.17 413.60L1519.03 413.92L1521.02 414.63L1523.90 415.60L1526.72 416.67L1529.54 417.71L1532.38 418.72L1535.22 419.69L1538.08 420.63L1540.94 421.53L1543.82 422.38L1546.70 423.20L1549.91 424.07L1553.13 424.91L1556.37 425.71L1559.61 426.48L1562.87 427.20L1566.13 427.88L1569.40 428.50L1572.40 429.06L1575.42 429.62L1578.44 430.12L1581.47 430.53L1584.50 430.80L1587.72 430.99L1590.94 431.15L1594.17 431.29L1597.41 431.40L1600.65 431.47L1603.90 431.50" fill="none" stroke="#0000ff" stroke-width="8.0" stroke-linejoin="round" stroke-linecap="butt"/>
<path d="M1128.20 469.70L1129.09 469.59L1129.99 469.47L1130.88 469.36L1131.78 469.25L1132.67 469.14L1133.56 469.04L1134.46 468.94L1135.35 468.83L1136.24 468.74L1137.14 468.64L1138.03 468.55L1140.00 468.34L1141.97 468.15L1143.94 467.97L1145.92 467.79L1147.89 467.62L1149.87 467.46L1151.85 467.30L1153.83 467.15L1155.81 467.00L1157.80 466.86L1159.79 466.72L1161.78 466.59L1163.78 466.45L1165.78 466.32L1167.79 466.19L1169.80 466.06L1171.81 465.93L1173.83 465.80L1175.85 465.67L1177.88 465.54L1179.92 465.41L1181.95 465.27L1183.99 465.13L1186.04 464.98L1188.08 464.82L1190.13 464.65L1192.17 464.47L1194.21 464.27L1196.25 464.06L1198.29 463.83L1200.32 463.58L1202.34 463.31L1204.35 463.01L1206.36 462.69L1208.36 462.34L1210.35 461.96L1212.32 461.56L1214.28 461.11L1216.23 460.64L1218.17 460.13L1220.08 459.58L1221.99 458.99L1223.87 458.36L1225.73 457.69L1227.58 456.97L1229.40 456.21L1231.19 455.41L1232.97 454.56L1234.71 453.67L1236.43 452.73L1238.11 451.74L1239.77 450.72L1241.39 449.64L1242.97 448.52L1244.52 447.35L1246.03 446.14L1247.50 444.88L1248.93 443.58L1250.31 442.22L1251.65 440.83L1252.95 439.38L1254.21 437.90L1255.42 436.37L1256.59 434.81L1257.73 433.21L1258.82 431.58L1259.87 429.92L1260.88 428.22L1261.85 426.50L1262.78 424.75L1263.68 422.98L1264.53 421.18L1265.35 419.37L1266.14 417.53L1266.88 415.68L1267.59 413.82L1268.27 411.93L1268.92 410.04L1269.54 408.13L1270.12 406.21L1270.69 404.27L1271.22 402.33L1271.73 400.37L1272.22 398.41L1272.69 396.43L1273.14 394.45L1273.57 392.47L1273.98 390.48L1274.38 388.48L1274.77 386.48L1275.14 384.47L1275.50 382.47L1275.85 380.46L1276.20 378.45L1276.53 376.44L1276.87 374.44L1277.19 372.43L1277.52 370.43L1277.84 368.43L1278.16 366.43L1278.48 364.43L1278.80 362.44L1279.11 360.45L1279.42 358.46L1279.72 356.47L1280.02 354.48L1280.32 352.49L1280.62 350.51L1280.91 348.53L1281.20 346.55L1281.49 344.57L1281.78 342.59L1282.06 340.61L1282.34 338.63L1282.62 336.66L1282.89 334.68L1283.16 332.71L1283.43 330.73L1283.69 328.76L1283.96 326.79L1284.21 324.82L1284.47 322.84L1284.72 320.87L1284.98 318.90L1285.22 316.93L1285.47 314.96L1285.71 312.99L1285.95 311.02L1286.19 309.05L1286.42 307.08L1286.65 305.11L1286.88 303.13L1287.11 301.16L1287.33 299.19L1287.55 297.22L1287.77 295.24L1287.99 293.27L1288.20 291.29L1288.41 289.31L1288.62 287.34L1288.82 285.36L1289.02 283.38L1289.22 281.40L1289.42 279.41L1289.61 277.43L1289.80 275.44L1289.99 273.46L1290.18 271.47L1290.36 269.48L1290.54 267.49L1290.72 265.49L1290.89 263.50L1291.07 261.50L1291.24 259.50L1291.41 257.50L1291.58 255.50L1291.74 253.50L1291.91 251.49L1292.08 249.49L1292.24 247.49L1292.40 245.48L1292.57 243.47L1292.73 241.47L1292.90 239.46L1293.06 237.46L1293.22 235.45L1293.39 233.44L1293.56 231.44L1293.72 229.43L1293.89 227.43L1294.07 225.42L1294.24 223.42L1294.41 221.42L1294.59 219.42L1294.77 217.42L1294.96 215.42L1295.14 213.42L1295.33 211.42L1295.52 209.43L1295.72 207.44L1295.92 205.45L1296.13 203.46L1296.34 201.48L1296.56 199.49L1296.79 197.51L1297.03 195.54L1297.28 193.57L1297.54 191.60L1297.83 189.63L1298.13 187.67L1298.44 185.72L1298.78 183.77L1299.14 181.82L1299.53 179.89L1299.93 177.95L1300.37 176.03L1300.58 175.15L1300.79 174.28L1301.01 173.41L1301.23 172.54L1301.47 171.67L1301.70 170.81L1301.95 169.94L1302.20 169.08L1302.46 168.22L1302.72 167.36L1303.00 166.50" fill="none" stroke="#ff0000" stroke-width="7.8" stroke-linejoin="round" stroke-dasharray="7.70 7.58" stroke-dashoffset="0.00"/>
<path d="M1301.85 170.29L1302.20 169.08L1302.46 168.22L1302.72 167.36L1303.00 166.50L1303.14 167.40L1303.27 168.29L1303.40 169.19L1303.58 170.45" fill="none" stroke="#ff0000" stroke-width="7.8" stroke-linejoin="round"/>
<path d="M1303.00 166.50L1303.14 167.40L1303.27 168.29L1303.40 169.19L1303.53 170.09L1303.66 170.99L1303.79 171.89L1303.91 172.78L1304.04 173.68L1304.16 174.58L1304.28 175.48L1304.40 176.38L1304.66 178.36L1304.91 180.34L1305.16 182.32L1305.40 184.30L1305.64 186.29L1305.87 188.27L1306.10 190.25L1306.32 192.24L1306.53 194.22L1306.74 196.20L1306.94 198.19L1307.14 200.18L1307.33 202.16L1307.52 204.15L1307.70 206.14L1307.88 208.13L1308.05 210.11L1308.22 212.10L1308.39 214.09L1308.55 216.08L1308.70 218.07L1308.85 220.07L1309.00 222.06L1309.14 224.05L1309.28 226.04L1309.41 228.03L1309.54 230.03L1309.67 232.02L1309.79 234.02L1309.91 236.01L1310.03 238.01L1310.14 240.00L1310.25 242.00L1310.36 243.99L1310.46 245.99L1310.56 247.99L1310.66 249.98L1310.75 251.98L1310.84 253.98L1310.93 255.98L1311.01 257.98L1311.10 259.97L1311.18 261.97L1311.26 263.97L1311.33 265.97L1311.41 267.97L1311.48 269.97L1311.55 271.97L1311.61 273.97L1311.68 275.97L1311.74 277.97L1311.81 279.97L1311.87 281.98L1311.92 283.98L1311.98 285.98L1312.04 287.98L1312.09 289.98L1312.15 291.98L1312.20 293.99L1312.25 295.99L1312.30 297.99L1312.35 299.99L1312.40 301.99L1312.45 304.00L1312.50 306.00L1312.55 308.00L1312.60 310.00L1312.64 312.01L1312.69 314.01L1312.74 316.01L1312.78 318.01L1312.83 320.02L1312.88 322.02L1312.92 324.02L1312.97 326.03L1313.02 328.03L1313.07 330.03L1313.11 332.03L1313.16 334.04L1313.21 336.04L1313.26 338.04L1313.31 340.04L1313.36 342.04L1313.41 344.05L1313.46 346.05L1313.52 348.05L1313.57 350.05L1313.63 352.05L1313.68 354.06L1313.74 356.06L1313.80 358.06L1313.86 360.06L1313.92 362.06L1313.98 364.06L1314.05 366.06L1314.11 368.06L1314.18 370.06L1314.25 372.06L1314.32 374.06L1314.40 376.06L1314.47 378.06L1314.55 380.06L1314.63 382.06L1314.71 384.06L1314.80 386.06L1314.88 388.06L1314.97 390.06L1315.06 392.05L1315.16 394.05L1315.25 396.05L1315.35 398.05L1315.45 400.04L1315.56 402.04L1315.66 404.04L1315.78 406.03L1315.89 408.03L1315.94 408.94L1315.99 409.84L1316.05 410.75L1316.10 411.66L1316.16 412.56L1316.21 413.47L1316.27 414.38L1316.33 415.28L1316.39 416.19L1316.44 417.09L1316.50 418.00" fill="none" stroke="#ff0000" stroke-width="7.8" stroke-linejoin="round" stroke-dasharray="7.70 7.59" stroke-dashoffset="4.37"/>
<path d="M1316.25 414.01L1316.50 421.40L1316.81 413.98" fill="none" stroke="#ff0000" stroke-width="7.8" stroke-linejoin="bevel"/>
<path d="M1316.50 418.00L1316.57 417.09L1316.64 416.18L1316.71 415.28L1316.78 414.37L1316.85 413.46L1316.91 412.55L1316.98 411.65L1317.04 410.74L1317.11 409.83L1317.17 408.92L1317.23 408.02L1317.37 405.94L1317.51 403.93L1317.64 401.92L1317.76 399.91L1317.89 397.90L1318.00 395.89L1318.12 393.88L1318.23 391.87L1318.35 389.86L1318.45 387.85L1318.56 385.84L1318.66 383.83L1318.76 381.82L1318.85 379.81L1318.95 377.80L1319.04 375.79L1319.13 373.78L1319.22 371.77L1319.30 369.76L1319.38 367.75L1319.46 365.74L1319.54 363.73L1319.62 361.72L1319.69 359.71L1319.77 357.70L1319.84 355.69L1319.91 353.68L1319.98 351.67L1320.04 349.66L1320.11 347.65L1320.17 345.64L1320.23 343.62L1320.29 341.61L1320.35 339.60L1320.41 337.59L1320.47 335.58L1320.53 333.57L1320.59 331.56L1320.64 329.54L1320.70 327.53L1320.75 325.52L1320.80 323.51L1320.86 321.49L1320.91 319.48L1320.96 317.47L1321.02 315.45L1321.07 313.44L1321.12 311.43L1321.17 309.41L1321.23 307.40L1321.28 305.38L1321.33 303.37L1321.38 301.35L1321.44 299.34L1321.49 297.32L1321.55 295.30L1321.60 293.29L1321.66 291.27L1321.71 289.25L1321.77 287.24L1321.83 285.22L1321.89 283.20L1321.95 281.18L1322.01 279.17L1322.07 277.15L1322.14 275.13L1322.20 273.11L1322.27 271.09L1322.35 269.08L1322.42 267.06L1322.50 265.04L1322.59 263.03L1322.68 261.02L1322.78 259.01L1322.88 257.01L1322.99 255.00L1323.11 253.00L1323.23 251.00L1323.36 249.01L1323.50 247.02L1323.65 245.03L1323.80 243.05L1323.95 241.06L1324.11 239.08L1324.26 237.09L1324.40 235.10L1324.54 233.11L1324.68 231.12L1324.80 229.12L1324.91 227.12L1325.01 225.11L1325.09 223.09L1325.15 221.07L1325.19 219.04L1325.21 216.99L1325.21 214.94L1325.20 212.88L1325.17 210.82L1325.13 208.75L1325.09 206.68L1325.05 204.61L1325.01 202.54L1324.97 200.47L1324.94 198.40L1324.92 196.34L1324.92 194.29L1324.94 192.24L1324.98 190.20L1325.04 188.17L1325.14 186.16L1325.28 184.16L1325.47 182.19L1325.75 180.26L1326.12 178.36L1326.61 176.52L1327.24 174.74L1327.59 173.90L1327.96 173.13L1328.36 172.38L1328.79 171.64L1329.27 170.92L1329.78 170.22L1330.33 169.54L1330.93 168.87L1331.57 168.23L1332.26 167.60L1333.00 167.00" fill="none" stroke="#ff0000" stroke-width="7.8" stroke-linejoin="round" stroke-dasharray="7.70 7.59" stroke-dashoffset="2.92"/>
<path d="M1330.09 169.83L1330.93 168.87L1331.57 168.23L1332.26 167.60L1333.00 167.00L1333.12 167.91L1333.25 168.82L1333.37 169.73L1333.54 171.02" fill="none" stroke="#ff0000" stroke-width="7.8" stroke-linejoin="round"/>
<path d="M1333.00 167.00L1333.12 167.91L1333.25 168.82L1333.37 169.73L1333.49 170.64L1333.61 171.55L1333.73 172.46L1333.85 173.37L1333.97 174.28L1334.08 175.19L1334.20 176.10L1334.32 177.01L1334.57 179.04L1334.82 181.04L1335.07 183.04L1335.31 185.04L1335.55 187.05L1335.78 189.05L1336.01 191.05L1336.24 193.04L1336.47 195.04L1336.69 197.04L1336.91 199.03L1337.13 201.03L1337.35 203.02L1337.56 205.02L1337.77 207.01L1337.98 209.01L1338.19 211.00L1338.39 212.99L1338.59 214.98L1338.80 216.97L1338.99 218.96L1339.19 220.95L1339.39 222.94L1339.58 224.93L1339.77 226.92L1339.97 228.91L1340.16 230.89L1340.34 232.88L1340.53 234.87L1340.72 236.85L1340.91 238.84L1341.09 240.83L1341.28 242.81L1341.46 244.80L1341.64 246.78L1341.83 248.77L1342.01 250.75L1342.19 252.73L1342.38 254.72L1342.56 256.70L1342.74 258.69L1342.92 260.67L1343.11 262.65L1343.29 264.64L1343.48 266.62L1343.66 268.60L1343.85 270.59L1344.03 272.57L1344.22 274.55L1344.41 276.54L1344.60 278.52L1344.79 280.50L1344.98 282.49L1345.17 284.47L1345.36 286.45L1345.56 288.44L1345.76 290.42L1345.96 292.41L1346.16 294.39L1346.36 296.38L1346.56 298.36L1346.77 300.35L1346.98 302.33L1347.19 304.32L1347.40 306.30L1347.62 308.29L1347.84 310.28L1348.06 312.26L1348.28 314.25L1348.51 316.24L1348.74 318.23L1348.97 320.22L1349.20 322.21L1349.44 324.20L1349.68 326.19L1349.93 328.18L1350.18 330.17L1350.43 332.16L1350.69 334.15L1350.95 336.14L1351.21 338.14L1351.48 340.13L1351.75 342.13L1352.02 344.12L1352.30 346.12L1352.59 348.12L1352.88 350.11L1353.17 352.11L1353.47 354.11L1353.77 356.11L1354.08 358.11L1354.39 360.11L1354.71 362.12L1355.03 364.12L1355.35 366.12L1355.69 368.13L1356.03 370.13L1356.37 372.14L1356.72 374.15L1357.07 376.16L1357.43 378.17L1357.80 380.18L1358.17 382.19L1358.55 384.20L1358.94 386.21L1359.33 388.22L1359.74 390.23L1360.16 392.23L1360.60 394.23L1361.05 396.22L1361.52 398.20L1362.00 400.17L1362.51 402.14L1363.03 404.09L1363.58 406.03L1364.15 407.96L1364.75 409.87L1365.37 411.77L1366.03 413.65L1366.71 415.52L1367.42 417.37L1368.16 419.19L1368.94 421.00L1369.75 422.78L1370.60 424.55L1371.49 426.28L1372.41 428.00L1373.38 429.68L1374.38 431.34L1375.43 432.97L1376.53 434.57L1377.67 436.14L1378.86 437.68L1380.09 439.19L1381.38 440.66L1382.71 442.09L1384.08 443.49L1385.50 444.85L1386.96 446.17L1388.46 447.44L1390.00 448.68L1391.58 449.86L1393.20 451.00L1394.85 452.09L1396.54 453.13L1398.25 454.12L1400.01 455.05L1401.79 455.93L1403.60 456.75L1405.43 457.52L1407.29 458.24L1409.17 458.90L1411.07 459.52L1412.99 460.10L1414.92 460.63L1416.86 461.12L1418.81 461.56L1420.77 461.97L1422.74 462.34L1424.72 462.68L1426.70 462.98L1428.70 463.25L1430.69 463.49L1432.70 463.69L1434.71 463.88L1436.73 464.03L1438.75 464.16L1440.77 464.26L1442.80 464.35L1444.84 464.41L1446.87 464.46L1448.91 464.49L1450.95 464.50L1453.00 464.50L1455.04 464.49L1457.08 464.46L1459.13 464.43L1461.17 464.39L1463.22 464.34L1465.26 464.29L1467.30 464.23L1469.34 464.18L1471.37 464.12L1473.41 464.07L1475.44 464.02L1477.46 463.97L1479.48 463.93L1481.50 463.90L1483.51 463.87L1485.51 463.86L1487.51 463.86L1489.50 463.88L1491.48 463.91L1493.46 463.95L1494.37 463.98L1495.26 464.01L1496.15 464.05L1497.04 464.09L1497.93 464.13L1498.81 464.18L1499.69 464.24L1500.57 464.30L1501.45 464.36L1502.33 464.43L1503.20 464.50" fill="none" stroke="#ff0000" stroke-width="7.8" stroke-linejoin="round" stroke-dasharray="7.70 7.58" stroke-dashoffset="2.73"/>
<rect x="1406.0" y="12.6" width="242.0" height="110.0" fill="#fff" stroke="#262626" stroke-width="4.3"/>
<path d="M1417.5 42H1479.8" stroke="#0000ff" stroke-width="8.6"/>
<path d="M1417.5 93.4H1480.5" stroke="#ff0000" stroke-width="8.6" stroke-dasharray="8.2 7.4"/>
<g font-family='"Liberation Sans", Arial, Helvetica, sans-serif' font-weight="bold" font-size="39.9" fill="#000"><text x="1485.3" y="58.2">R=55nm</text><text x="1485.3" y="109.8">R=25nm</text></g>
<path d="M505.5 211.2H540.5" stroke="#0000ff" stroke-width="6"/><path d="M539.5 200.3Q552.9 207.3 568.3 211.2Q552.9 215.0 539.5 222.1Z" fill="#0000ff"/>
<path d="M477.5 352.5H540.7" stroke="#ff0000" stroke-width="6"/><path d="M539.7 341.6Q553.1 348.7 568.5 352.5Q553.1 356.3 539.7 363.4Z" fill="#ff0000"/>
<path d="M1393.5 211.2H1435.1" stroke="#0000ff" stroke-width="6"/><path d="M1434.1 200.3Q1447.5 207.3 1462.9 211.2Q1447.5 215.0 1434.1 222.1Z" fill="#0000ff"/>
<path d="M1350.0 352.6H1435.2" stroke="#ff0000" stroke-width="6"/><path d="M1434.2 341.7Q1447.6 348.8 1463.0 352.6Q1447.6 356.4 1434.2 363.5Z" fill="#ff0000"/>
<g fill="#000"><text x="565.0" y="186.8" font-family='"DejaVu Sans Condensed", "DejaVu Sans", "Liberation Sans", sans-serif' font-size="23" text-anchor="middle" stroke="#000" stroke-width="0.3">z</text><text x="632.4" y="251.0" font-family='"DejaVu Sans Condensed", "DejaVu Sans", "Liberation Sans", sans-serif' font-size="23" text-anchor="middle" stroke="#000" stroke-width="0.3">x</text><text x="728.3" y="184.5" font-family='"DejaVu Sans", "Liberation Sans", sans-serif' font-size="26.5">5</text><text x="728.5" y="235.8" font-family='"DejaVu Sans", "Liberation Sans", sans-serif' font-size="26.5">0</text></g>
<g fill="#000"><text x="565.4" y="330.1" font-family='"DejaVu Sans Condensed", "DejaVu Sans", "Liberation Sans", sans-serif' font-size="23" text-anchor="middle" stroke="#000" stroke-width="0.3">z</text><text x="630.6" y="394.2" font-family='"DejaVu Sans Condensed", "DejaVu Sans", "Liberation Sans", sans-serif' font-size="23" text-anchor="middle" stroke="#000" stroke-width="0.3">x</text><text x="730.8" y="323.6" font-family='"DejaVu Sans", "Liberation Sans", sans-serif' font-size="26.5">5</text><text x="730.8" y="375.8" font-family='"DejaVu Sans", "Liberation Sans", sans-serif' font-size="26.5">0</text></g>
<g fill="#000"><text x="1452.2" y="189.9" font-family='"DejaVu Sans Condensed", "DejaVu Sans", "Liberation Sans", sans-serif' font-size="23" text-anchor="middle" stroke="#000" stroke-width="0.3">z</text><text x="1519.0" y="254.2" font-family='"DejaVu Sans Condensed", "DejaVu Sans", "Liberation Sans", sans-serif' font-size="23" text-anchor="middle" stroke="#000" stroke-width="0.3">x</text><text x="1615.0" y="183.8" font-family='"DejaVu Sans", "Liberation Sans", sans-serif' font-size="26.5">5</text><text x="1615.0" y="234.8" font-family='"DejaVu Sans", "Liberation Sans", sans-serif' font-size="26.5">0</text></g>
<g fill="#000"><text x="1451.7" y="331.6" font-family='"DejaVu Sans Condensed", "DejaVu Sans", "Liberation Sans", sans-serif' font-size="23" text-anchor="middle" stroke="#000" stroke-width="0.3">z</text><text x="1516.2" y="394.4" font-family='"DejaVu Sans Condensed", "DejaVu Sans", "Liberation Sans", sans-serif' font-size="23" text-anchor="middle" stroke="#000" stroke-width="0.3">x</text><text x="1614.8" y="324.8" font-family='"DejaVu Sans", "Liberation Sans", sans-serif' font-size="26.5">5</text><text x="1614.8" y="376.9" font-family='"DejaVu Sans", "Liberation Sans", sans-serif' font-size="26.5">0</text></g>
</svg>
</div>
</body>
</html>
